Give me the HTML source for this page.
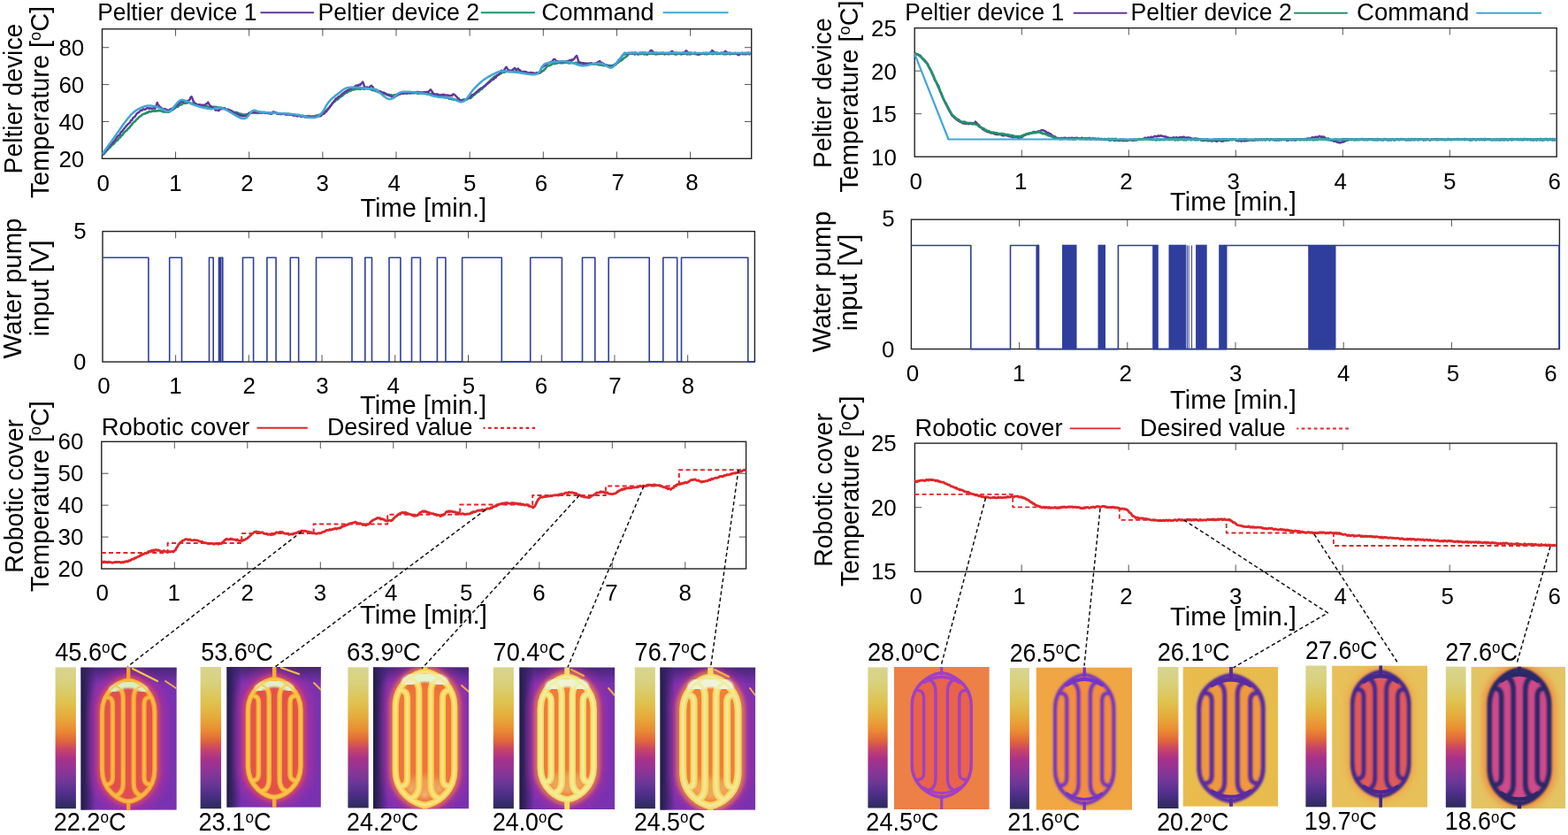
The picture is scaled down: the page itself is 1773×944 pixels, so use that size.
<!DOCTYPE html><html><head><meta charset="utf-8"><style>html,body{margin:0;padding:0;background:#fff;overflow:hidden}svg{display:block}text{font-family:"Liberation Sans",Arial,sans-serif;fill:#000}</style></head><body><svg width="1773" height="944" viewBox="0 0 1773 944"><defs><linearGradient id="cb" x1="0" y1="0" x2="0" y2="1"><stop offset="0" stop-color="#d8d590"/><stop offset="0.12" stop-color="#d9d07a"/><stop offset="0.25" stop-color="#dfc24e"/><stop offset="0.36" stop-color="#e6a93a"/><stop offset="0.45" stop-color="#ea8a33"/><stop offset="0.52" stop-color="#e0663c"/><stop offset="0.58" stop-color="#c84468"/><stop offset="0.65" stop-color="#a8318a"/><stop offset="0.73" stop-color="#8e3596"/><stop offset="0.82" stop-color="#6c3796"/><stop offset="0.9" stop-color="#4d2f88"/><stop offset="1" stop-color="#2c2b5a"/></linearGradient><filter id="b0_6" x="-30%" y="-30%" width="160%" height="160%"><feGaussianBlur stdDeviation="0.6"/></filter><filter id="b0_9" x="-30%" y="-30%" width="160%" height="160%"><feGaussianBlur stdDeviation="0.9"/></filter><filter id="b1_2" x="-30%" y="-30%" width="160%" height="160%"><feGaussianBlur stdDeviation="1.2"/></filter><filter id="b1_6" x="-30%" y="-30%" width="160%" height="160%"><feGaussianBlur stdDeviation="1.6"/></filter><filter id="b2_0" x="-30%" y="-30%" width="160%" height="160%"><feGaussianBlur stdDeviation="2"/></filter><filter id="b3_0" x="-30%" y="-30%" width="160%" height="160%"><feGaussianBlur stdDeviation="3"/></filter><filter id="b4_5" x="-30%" y="-30%" width="160%" height="160%"><feGaussianBlur stdDeviation="4.5"/></filter><filter id="b6_0" x="-30%" y="-30%" width="160%" height="160%"><feGaussianBlur stdDeviation="6"/></filter><clipPath id="c1"><rect x="91.3" y="754.4" width="108.5" height="161.4"/></clipPath><linearGradient id="c1g" x1="0" y1="0" x2="1" y2="0"><stop offset="0" stop-color="#1e1c46" stop-opacity="1"/><stop offset="0.05" stop-color="#1e1c46" stop-opacity="0.75"/><stop offset="0.16" stop-color="#1e1c46" stop-opacity="0"/></linearGradient><linearGradient id="c1t" x1="0" y1="0" x2="0" y2="1"><stop offset="0" stop-color="#302060" stop-opacity="0.7"/><stop offset="0.12" stop-color="#302060" stop-opacity="0"/></linearGradient><clipPath id="c2"><rect x="256.3" y="754" width="106.6" height="158.8"/></clipPath><linearGradient id="c2g" x1="0" y1="0" x2="1" y2="0"><stop offset="0" stop-color="#1e1c46" stop-opacity="1"/><stop offset="0.05" stop-color="#1e1c46" stop-opacity="0.75"/><stop offset="0.16" stop-color="#1e1c46" stop-opacity="0"/></linearGradient><linearGradient id="c2t" x1="0" y1="0" x2="0" y2="1"><stop offset="0" stop-color="#302060" stop-opacity="0.7"/><stop offset="0.12" stop-color="#302060" stop-opacity="0"/></linearGradient><clipPath id="c3"><rect x="422" y="754.3" width="108" height="160.1"/></clipPath><linearGradient id="c3g" x1="0" y1="0" x2="1" y2="0"><stop offset="0" stop-color="#1e1c46" stop-opacity="1"/><stop offset="0.05" stop-color="#1e1c46" stop-opacity="0.75"/><stop offset="0.16" stop-color="#1e1c46" stop-opacity="0"/></linearGradient><linearGradient id="c3t" x1="0" y1="0" x2="0" y2="1"><stop offset="0" stop-color="#302060" stop-opacity="0.7"/><stop offset="0.12" stop-color="#302060" stop-opacity="0"/></linearGradient><clipPath id="c4"><rect x="587.3" y="754.4" width="108" height="160.7"/></clipPath><linearGradient id="c4g" x1="0" y1="0" x2="1" y2="0"><stop offset="0" stop-color="#1e1c46" stop-opacity="1"/><stop offset="0.05" stop-color="#1e1c46" stop-opacity="0.75"/><stop offset="0.16" stop-color="#1e1c46" stop-opacity="0"/></linearGradient><linearGradient id="c4t" x1="0" y1="0" x2="0" y2="1"><stop offset="0" stop-color="#302060" stop-opacity="0.7"/><stop offset="0.12" stop-color="#302060" stop-opacity="0"/></linearGradient><clipPath id="c5"><rect x="746.3" y="754.4" width="108" height="161.4"/></clipPath><linearGradient id="c5g" x1="0" y1="0" x2="1" y2="0"><stop offset="0" stop-color="#1e1c46" stop-opacity="1"/><stop offset="0.05" stop-color="#1e1c46" stop-opacity="0.75"/><stop offset="0.16" stop-color="#1e1c46" stop-opacity="0"/></linearGradient><linearGradient id="c5t" x1="0" y1="0" x2="0" y2="1"><stop offset="0" stop-color="#302060" stop-opacity="0.7"/><stop offset="0.12" stop-color="#302060" stop-opacity="0"/></linearGradient><clipPath id="c6"><rect x="1010.8" y="754" width="108" height="161.1"/></clipPath><clipPath id="c7"><rect x="1171.5" y="754.4" width="108.5" height="161.4"/></clipPath><clipPath id="c8"><rect x="1337.5" y="754" width="107.8" height="157.8"/></clipPath><clipPath id="c9"><rect x="1506.1" y="752.5" width="108" height="160.3"/></clipPath><clipPath id="c10"><rect x="1663.3" y="753.7" width="106.9" height="160.5"/></clipPath></defs><rect width="1773" height="944" fill="#fff"/><path d="M198.55 179.3V171.5M198.55 32.8V40.6M281.7 179.3V171.5M281.7 32.8V40.6M364.85 179.3V171.5M364.85 32.8V40.6M448 179.3V171.5M448 32.8V40.6M531.15 179.3V171.5M531.15 32.8V40.6M614.3 179.3V171.5M614.3 32.8V40.6M697.45 179.3V171.5M697.45 32.8V40.6M780.6 179.3V171.5M780.6 32.8V40.6M115.5 137.44H123.3M849.7 137.44H841.9M115.5 95.58H123.3M849.7 95.58H841.9M115.5 53.72H123.3M849.7 53.72H841.9" stroke="#555" stroke-width="1" fill="none"/>
<rect x="115.5" y="32.8" width="734.2" height="146.5" fill="none" stroke="#222" stroke-width="1.4"/>
<path d="M115.9 175.29 L116.47 174.49 L117.18 174.37 L117.99 172.83 L118.91 172.45 L119.91 171.22 L120.97 169.75 L122.09 169.15 L123.24 167.4 L124.41 166.67 L125.58 165.03 L126.74 163.86 L127.88 163.09 L128.97 162.45 L130 160.55 L131.06 159.57 L132.11 158.98 L133.14 158.3 L134.16 156.79 L135.18 155.52 L136.21 155.16 L137.23 152.98 L138.27 152.88 L139.33 151.11 L140.4 149.84 L141.5 148.68 L142.63 147.75 L143.8 147.18 L144.72 145.47 L145.65 144.95 L146.61 143.98 L147.58 142.58 L148.57 141.69 L149.57 139.99 L150.58 138.86 L151.59 137.91 L152.62 137.37 L153.65 135.98 L154.68 134.78 L155.71 134.09 L156.74 132.96 L157.76 131.86 L158.79 131.61 L159.8 130.72 L160.8 129.49 L161.87 129.25 L162.94 128.62 L164.02 128.53 L165.11 127.9 L166.2 126.98 L167.29 127.46 L168.38 126.13 L169.47 126.23 L170.55 126.41 L171.62 125.49 L172.67 125.72 L173.72 125.03 L174.74 125.65 L175.75 125.65 L176.74 125.3 L177.7 125.55 L178.84 124.8 L179.91 125.28 L180.94 125.28 L181.94 125.44 L182.91 125.51 L183.87 126.21 L184.82 126.57 L185.79 126.21 L186.78 126.6 L187.81 125.96 L188.88 126.73 L190 126.54 L191.2 126.69 L192.11 126.19 L193.04 125.15 L194 124.8 L194.99 124.6 L196 123.22 L197.02 123.1 L198.06 122.06 L199.12 121.3 L200.18 120.52 L201.25 120.66 L202.33 119.21 L203.41 118.69 L204.49 118.24 L205.57 118.24 L206.64 116.79 L207.71 116.81 L208.76 116.59 L209.8 116.76 L210.83 116.55 L211.84 116.54 L212.84 115.84 L213.84 116.07 L214.82 116.13 L215.81 116.93 L216.8 117.23 L217.79 116.51 L218.78 116.81 L219.78 117.17 L220.8 117.48 L221.82 118.09 L222.86 118.52 L223.92 118.43 L225 118.41 L226.11 119.17 L227.24 119.34 L228.4 119.78 L229.33 120.38 L230.28 120.19 L231.24 120.1 L232.22 120.34 L233.21 120.51 L234.22 119.87 L235.24 120.99 L236.27 120.95 L237.3 121.16 L238.35 121.17 L239.4 120.79 L240.46 120.9 L241.52 120.66 L242.59 121.41 L243.66 120.84 L244.72 120.98 L245.79 121.29 L246.85 121.38 L247.91 121.75 L248.97 121.57 L250.02 121.69 L251.06 122.07 L252.1 122.22 L253.14 122.77 L254.21 122.63 L255.29 123.94 L256.39 123.95 L257.5 123.73 L258.62 124.2 L259.75 124.69 L260.88 125.08 L262 125.18 L263.13 126.43 L264.24 126.99 L265.34 126.74 L266.43 127.14 L267.5 127.03 L268.56 127.4 L269.58 128.03 L270.58 128.25 L271.55 129.21 L272.48 128.68 L273.37 128.74 L274.23 130.06 L275.04 129.71 L275.8 129.38 L277.26 129.97 L278.32 129.29 L279.1 129.67 L279.71 129.89 L280.26 129.35 L280.85 128.73 L281.62 127.79 L282.65 127.56 L284.08 127.04 L286 127.63 L286.67 127.32 L287.37 127.61 L288.11 127.06 L288.88 126.93 L289.68 127.64 L290.52 127.86 L291.38 127.71 L292.26 127.67 L293.18 127.71 L294.11 127.64 L295.07 127.05 L296.05 127.43 L297.05 127.27 L298.07 126.92 L299.1 126.95 L300.15 127.3 L301.22 127.32 L302.29 127.88 L303.38 128.25 L304.48 127.69 L305.58 128.33 L306.69 128.44 L307.81 128.45 L308.93 127.8 L310.05 127.68 L311.17 127.74 L312.29 127.76 L313.41 127.83 L314.53 128.38 L315.64 128.77 L316.74 128.75 L317.84 128.37 L318.92 128.63 L320 128.86 L320.97 128.05 L321.95 128.81 L322.95 129.19 L323.96 129.13 L324.98 129.19 L326.02 128.97 L327.07 128.74 L328.13 129.59 L329.2 129.18 L330.27 129.88 L331.36 130.23 L332.44 129.68 L333.53 129.83 L334.63 130.63 L335.72 130.51 L336.82 129.99 L337.92 130.07 L339.01 130.24 L340.1 131.27 L341.19 131.28 L342.27 130.6 L343.34 131.53 L344.41 131.81 L345.47 131.5 L346.52 131.21 L347.55 131.51 L348.58 131.05 L349.59 130.94 L350.59 132.1 L351.57 131.71 L352.53 131.54 L353.48 131.98 L354.4 131.32 L355.31 131.75 L356.19 131.58 L357.05 130.71 L357.89 130.59 L358.7 130.45 L360.05 129.99 L361.35 129.91 L362.59 128.95 L363.79 128.49 L364.93 127.43 L366.04 127.6 L367.11 126.11 L368.14 125.36 L369.14 124.61 L370.12 124.06 L371.06 122.53 L371.99 122.16 L372.89 120.69 L373.78 119.75 L374.65 118.78 L375.52 117.23 L376.38 116.81 L377.24 115.61 L378.09 114.55 L378.95 114.7 L379.82 113.19 L380.7 112.87 L381.89 112.28 L383.04 111.2 L384.15 110.07 L385.23 109.46 L386.28 108.7 L387.31 108.19 L388.32 106.62 L389.32 106.43 L390.31 105.37 L391.31 104.74 L392.31 104.71 L393.33 103.81 L394.36 103.33 L395.41 103.07 L396.49 102.8 L397.6 101.83 L398.55 101.73 L399.5 101.33 L400.45 101.09 L401.4 101.09 L402.35 100.62 L403.31 100.55 L404.27 100.36 L405.24 100.81 L406.22 100.44 L407.22 100.6 L408.22 100.65 L409.24 99.82 L410.27 100.2 L411.32 100.7 L412.39 100.64 L413.49 99.89 L414.6 99.97 L415.74 100.48 L416.9 100.19 L417.81 100.53 L418.76 100.5 L419.74 101.43 L420.75 101.81 L421.78 102.22 L422.83 101.62 L423.91 102.62 L424.99 102.88 L426.09 102.61 L427.19 103.86 L428.3 104.33 L429.41 103.81 L430.51 105.06 L431.61 104.77 L432.7 105.24 L433.78 106.2 L434.84 106.35 L435.88 105.87 L436.9 106.5 L437.88 106.88 L438.84 106.92 L439.77 106.98 L440.65 107.31 L441.5 107.95 L442.3 107.22 L443.69 107.98 L444.88 107.84 L445.91 107.23 L446.83 107.43 L447.66 107.54 L448.45 107.11 L449.23 106.26 L450.04 107.04 L450.91 106.49 L451.88 106.41 L453 105.12 L454.29 105.13 L455.8 104.75 L456.57 105.6 L457.36 104.97 L458.18 104.77 L459.02 105.09 L459.89 105.66 L460.78 105.52 L461.69 104.83 L462.62 104.68 L463.57 105.6 L464.54 105.17 L465.53 105.32 L466.54 104.59 L467.57 104.56 L468.61 105.33 L469.67 105.03 L470.75 104.63 L471.84 105.7 L472.94 105.38 L474.06 105.62 L475.19 104.82 L476.33 105.81 L477.48 104.93 L478.65 105.97 L479.82 105.57 L481 105.54 L482.2 105.9 L483.39 106.48 L484.6 105.82 L485.5 105.77 L486.43 106.38 L487.39 106.19 L488.36 106.21 L489.36 106.46 L490.37 106.53 L491.4 106.93 L492.45 107.29 L493.51 107.52 L494.59 108.32 L495.68 108.01 L496.77 108.53 L497.88 108.42 L498.99 108.89 L500.1 108.77 L501.22 109.33 L502.34 109.33 L503.46 110.46 L504.58 110.52 L505.7 110.35 L506.81 110.96 L507.92 111.76 L509.01 111.02 L510.1 112.11 L511.18 111.87 L512.25 112.16 L513.3 112.76 L514.33 112.41 L515.35 112.72 L516.35 113.08 L517.33 113.56 L518.29 112.9 L519.23 113.57 L520.14 113.48 L521.02 113.43 L521.88 113.16 L522.7 113.07 L523.5 112.67 L524.93 112.59 L526.26 112.29 L527.5 112.79 L528.67 111.83 L529.76 111.29 L530.8 110.72 L531.78 111.09 L532.71 110.54 L533.62 109.68 L534.49 108.55 L535.35 107.81 L536.21 107.15 L537.06 106.6 L537.92 105.47 L538.8 105.03 L539.71 104.02 L540.66 104.05 L541.65 103.26 L542.69 101.95 L543.8 100.79 L544.71 101 L545.62 99.5 L546.53 98.8 L547.43 97.58 L548.34 97.2 L549.25 96.45 L550.16 95.6 L551.08 94.33 L552.01 93.77 L552.94 92.25 L553.89 91.63 L554.85 90.49 L555.83 89.94 L556.82 88.6 L557.82 87.69 L558.85 87.17 L559.9 86.25 L560.96 85.87 L562.06 85.04 L563.17 84.59 L564.32 83.82 L565.49 83.28 L566.7 82.94 L567.93 81.87 L569.2 81.39 L570.06 81.96 L570.96 80.77 L571.9 81.3 L572.86 81.07 L573.85 80.26 L574.87 81.13 L575.91 81.16 L576.98 80.82 L578.06 80.94 L579.16 81.06 L580.28 80.29 L581.41 80.81 L582.55 80.86 L583.7 81.34 L584.85 81.4 L586.01 81.53 L587.17 81.36 L588.33 81.85 L589.49 81.73 L590.65 81.88 L591.8 81.46 L592.93 81.35 L594.06 81.61 L595.17 82.02 L596.27 81.84 L597.35 82.83 L598.41 82.62 L599.45 82.8 L600.46 82.89 L601.45 83.04 L602.4 82.87 L603.33 82.34 L604.22 83.33 L605.08 83.28 L605.89 82.97 L606.67 82.98 L607.41 83.07 L608.1 82.28 L610.18 82.66 L611.84 81.48 L613.16 80.53 L614.2 79.93 L615.05 79.58 L615.77 78.01 L616.44 77.71 L617.12 77.08 L617.9 75.66 L618.83 74.78 L620 74.27 L620.9 74.16 L621.8 73.92 L622.71 73.42 L623.63 73.16 L624.57 72.2 L625.52 72.03 L626.5 71.92 L627.5 72.29 L628.53 71.57 L629.6 71.7 L630.7 70.87 L631.84 70.79 L633.03 70.91 L634.27 71.28 L635.55 71.21 L636.9 71.11 L637.73 70.61 L638.59 70.86 L639.48 70.78 L640.4 70.77 L641.33 70.36 L642.3 71.3 L643.28 70.48 L644.28 71.44 L645.29 71.42 L646.32 70.36 L647.36 70.93 L648.41 71.41 L649.47 71.65 L650.54 71.08 L651.61 70.92 L652.68 70.92 L653.75 71.87 L654.82 71.05 L655.88 71.57 L656.94 71.11 L657.99 71.64 L659.03 72.22 L660.06 71.31 L661.07 72.2 L662.07 71.89 L663.04 72.41 L664 72.24 L665.07 71.75 L666.16 72.62 L667.26 72.21 L668.37 71.74 L669.49 71.81 L670.61 72.49 L671.73 72.54 L672.85 72.46 L673.96 72.37 L675.07 72.72 L676.16 72.79 L677.24 73.52 L678.3 72.62 L679.34 73.61 L680.36 73.82 L681.35 73.04 L682.32 74.1 L683.25 73.92 L684.14 74.23 L685 73.56 L685.82 73.72 L686.59 73.8 L687.32 74.57 L688 74.11 L689.85 73.96 L691.09 74.21 L691.91 74.16 L692.53 73.92 L693.16 73.85 L694.01 74.37 L695.3 73.04 L696.14 73.33 L697.08 71.88 L698.09 71.17 L699.18 70.64 L700.31 69.36 L701.47 68.64 L702.65 68.38 L703.83 67.33 L704.99 66.3 L706.12 65.19 L707.21 64.69 L708.22 63.98 L709.16 62.87 L710 62.56 L710.34 61.07 L709 61.5 L707.12 60.99 L705.86 61.34 L706.36 61.26 L709.79 60.88 L717.3 60.56 L717.84 61.61 L718.4 60.64 L718.99 61.05 L719.6 60.89 L720.22 60.83 L720.87 61.35 L721.54 61.63 L722.22 60.77 L722.93 61.24 L723.66 60.81 L724.4 61.11 L725.16 60.91 L725.95 60.63 L726.74 60.62 L727.56 60.67 L728.39 61.51 L729.24 61.01 L730.11 60.67 L730.99 61.49 L731.89 61.6 L732.8 60.94 L733.73 60.56 L734.67 60.62 L735.63 60.49 L736.6 60.79 L737.59 60.49 L738.59 60.66 L739.6 60.68 L740.62 61.05 L741.66 61.43 L742.7 61.26 L743.76 60.85 L744.83 60.85 L745.92 60.98 L747.01 60.8 L748.11 60.75 L749.22 60.42 L750.34 60.67 L751.47 61.5 L752.61 60.48 L753.76 60.93 L754.92 61.08 L756.08 61.36 L757.25 60.58 L758.43 60.64 L759.62 60.61 L760.81 60.79 L762.01 60.85 L763.21 61.45 L764.42 61.32 L765.64 61.35 L766.86 60.33 L768.08 60.34 L769.31 61.15 L770.54 61.37 L771.77 60.86 L773.01 61 L774.25 60.29 L775.49 60.76 L776.74 61.4 L777.99 61.27 L779.23 61.31 L780.48 61.45 L781.73 60.58 L782.98 60.41 L784.23 60.46 L785.48 60.9 L786.73 61.09 L787.98 61.4 L789.22 61.13 L790.47 61.04 L791.71 61.18 L792.95 60.81 L794.19 60.92 L795.42 60.31 L796.65 61.2 L797.88 60.54 L799.1 61.36 L800.32 61.03 L801.53 60.62 L802.74 60.41 L803.94 60.55 L805.14 61.01 L806.33 61.09 L807.51 60.38 L808.69 60.33 L809.86 60.87 L811.02 60.94 L812.18 60.71 L813.32 60.51 L814.46 60.96 L815.59 60.25 L816.71 60.6 L817.82 60.79 L818.92 61.39 L820.01 61.01 L821.09 61.29 L822.15 60.8 L823.21 60.51 L824.26 60.53 L825.29 61.38 L826.31 61.07 L827.32 60.6 L828.31 60.25 L829.29 60.82 L830.26 61.03 L831.22 60.73 L832.15 60.53 L833.08 61.02 L833.99 61.33 L834.88 60.49 L835.76 60.26 L836.62 60.62 L837.47 60.72 L838.3 61.04 L839.11 60.45 L839.9 61.17 L840.68 61.1 L841.44 60.82 L842.18 60.46 L842.9 61.37 L843.6 60.58 L844.28 61.19 L844.95 60.48 L845.59 60.47 L846.21 61.12 L846.81 60.56 L847.39 61.35 L847.95 60.8 L848.49 60.43 L849 60.47" stroke="#23906c" stroke-width="2.6" fill="none" stroke-linejoin="round"/>
<path d="M115.9 174.59 L116.46 174.25 L117.12 173.84 L117.85 171.93 L118.67 171.28 L119.55 170 L120.5 169.86 L121.5 167.59 L122.56 166.21 L123.66 164.92 L124.8 164 L125.97 163.26 L127.17 161.82 L128.39 160.19 L129.62 159.07 L130.85 157.52 L132.08 155.28 L133.31 153.64 L134.53 153.18 L135.72 151.52 L136.89 149.21 L138.03 148.69 L139.12 147.03 L140.17 145.78 L141.17 144.55 L142.12 143.24 L142.99 141.99 L143.8 141.41 L145.32 139.72 L146.71 138.85 L147.99 136.23 L149.15 135.91 L150.23 133.62 L151.23 132.6 L152.18 132.09 L153.08 131.05 L153.94 129.58 L154.79 128.19 L155.64 127.9 L156.51 126.98 L157.4 126.95 L158.56 125.15 L159.67 124.69 L160.74 124.85 L161.77 123.32 L162.77 123.51 L163.74 123.8 L164.7 123.56 L165.64 122.45 L166.57 122.28 L167.5 122.13 L168.69 123.05 L169.9 122.09 L171.1 122.71 L172.28 122.92 L173.38 122.21 L174.39 122.12 L175.27 122.75 L176 121.31 L177.7 115.99 L178.44 117.66 L179.29 118.7 L180.29 120.55 L181.46 120.96 L182.8 122.53 L183.63 123.04 L184.52 123.03 L185.46 123.81 L186.46 122.98 L187.5 123.56 L188.59 124.1 L189.72 124.82 L190.89 124.76 L192.1 123.75 L193.05 123.2 L194.07 122.9 L195.14 122.31 L196.24 122.1 L197.37 120.29 L198.51 120.22 L199.64 119.24 L200.76 118.48 L201.85 117.6 L202.89 116.65 L203.88 115.66 L204.8 115.17 L206.09 114.74 L207.32 115.01 L208.48 113.97 L209.58 114.09 L210.61 114.83 L211.55 114.19 L212.42 113.9 L213.2 113.69 L214.64 112.51 L215.53 109.9 L216.6 109.22 L217.38 110.78 L218.11 113.16 L218.97 114.84 L220.12 116.39 L221.7 117.48 L222.47 118.23 L223.35 118.65 L224.31 118.39 L225.34 118.14 L226.43 118.37 L227.56 118.6 L228.71 118.63 L229.87 118.69 L231.01 118.81 L232.14 118.59 L233.22 117.24 L234.25 117.13 L235.2 115.53 L236.36 117.65 L237.48 119.26 L238.56 120.78 L239.6 120.82 L240.62 121.65 L241.61 122.4 L242.58 122.98 L243.53 124.53 L244.47 124.61 L245.4 124.57 L246.44 124.72 L247.31 125.23 L248.08 124.14 L248.86 123.23 L249.73 123.45 L250.79 122.85 L252.11 123.13 L253.8 122.18 L254.53 122.85 L255.33 123.55 L256.2 123.89 L257.13 124.35 L258.11 123.62 L259.14 124.4 L260.2 124.65 L261.3 125.24 L262.41 126.78 L263.55 126.8 L264.69 127.79 L265.83 127.6 L266.97 128.77 L268.1 128.73 L269.2 128.97 L270.28 130.1 L271.33 130.74 L272.33 130.03 L273.29 131 L274.19 131.3 L275.03 130.99 L275.8 131.33 L277.19 131.11 L278.21 131.02 L278.98 130.7 L279.59 130.61 L280.15 130.05 L280.77 128.81 L281.56 127.92 L282.63 127.76 L284.07 127.78 L286 126.89 L286.67 127.02 L287.37 126.85 L288.1 127.6 L288.87 127.27 L289.67 126.64 L290.49 126.69 L291.35 127.08 L292.23 127.3 L293.13 127.44 L294.06 126.76 L295.01 126.88 L295.98 127.61 L296.98 127.29 L297.99 127.17 L299.01 127.25 L300.06 128.15 L301.11 127.37 L302.18 127.77 L303.26 127.56 L304.36 127.7 L305.46 128.36 L306.57 128.6 L307.68 127.4 L308.8 126.39 L309.93 126.64 L311.06 126.9 L312.18 127.59 L313.31 128.91 L314.44 128.36 L315.56 128.95 L316.68 128.48 L317.79 129.17 L318.9 128.69 L320 128.36 L320.94 128.23 L321.9 129 L322.88 129.21 L323.87 129.66 L324.88 128.7 L325.91 129.52 L326.94 129.32 L327.99 129.64 L329.05 129.32 L330.12 129.65 L331.2 130.11 L332.28 130.8 L333.37 129.9 L334.47 130.56 L335.56 131.13 L336.66 131.5 L337.76 130.66 L338.86 130.73 L339.96 131.94 L341.06 132.13 L342.15 131.63 L343.23 131.2 L344.31 132.46 L345.38 131.87 L346.44 132.64 L347.49 132.36 L348.53 132.7 L349.56 131.9 L350.57 132.76 L351.56 132.05 L352.54 132.3 L353.5 132.86 L354.45 132.81 L355.37 131.92 L356.27 131.89 L357.15 132.03 L358 132.06 L358.83 131.73 L359.63 131.22 L360.4 131.17 L361.87 131.29 L363.26 130.88 L364.57 129.02 L365.8 128.85 L366.97 128.17 L368.07 126.22 L369.13 126.18 L370.13 124.12 L371.09 123.57 L372.02 122.3 L372.92 121.18 L373.79 119.54 L374.65 118.47 L375.49 117.48 L376.34 116.1 L377.18 115.27 L378.03 113.92 L378.9 112.9 L379.79 111.42 L380.7 111.35 L381.86 110.21 L383.02 108.95 L384.16 108.74 L385.3 107.9 L386.43 106.66 L387.55 105.51 L388.65 105.13 L389.73 103.93 L390.8 103.27 L391.84 103 L392.87 101.93 L393.87 101.78 L394.84 101.29 L395.79 100.13 L396.71 100.38 L397.6 99.16 L398.85 99.32 L400.06 98.76 L401.23 97.85 L402.35 96.75 L403.43 96.9 L404.45 96.35 L405.41 96.78 L406.31 95.46 L407.14 96.19 L407.91 95.76 L408.6 94.26 L410.13 92.56 L410.81 93.9 L412 97.9 L412.69 98.51 L413.38 99.35 L414.11 99.31 L414.93 98.33 L415.88 99.18 L417.01 99.5 L418.37 97.89 L420 96.85 L420.76 97.83 L421.62 98.35 L422.56 100.75 L423.57 100.71 L424.64 101.83 L425.76 101.4 L426.92 102.33 L428.11 103.36 L429.31 102.92 L430.52 103.49 L431.73 104.31 L432.92 104.56 L434.09 104.68 L435.21 105.34 L436.29 105.76 L437.32 107.2 L438.27 107.26 L439.14 107.91 L439.92 107.29 L440.6 108.37 L442.71 108.59 L443.46 109.84 L443.89 110.28 L445 109.82 L445.67 110.28 L446.29 109.53 L446.9 109.12 L447.54 109 L448.27 107.42 L449.15 108 L450.21 106.97 L451.5 106.14 L453.08 106.22 L455 105.19 L455.69 106.05 L456.45 105.44 L457.27 105.08 L458.15 105.53 L459.08 105.04 L460.05 104.63 L461.07 105.31 L462.13 104.35 L463.23 105.29 L464.35 104.51 L465.5 104.96 L466.66 105.37 L467.85 104.81 L469.04 104.87 L470.24 104.38 L471.44 103.95 L472.63 103.96 L473.82 104.09 L475 104.67 L476.16 104.41 L477.29 104.5 L478.4 104.99 L479.48 103.99 L480.52 104.1 L481.52 104.65 L482.48 103.83 L483.39 103.81 L484.24 104.27 L485.03 103.24 L485.76 102.6 L486.41 101.55 L487 101.24 L489.41 104.67 L488.59 103.85 L490 106.66 L490.61 106.55 L491.32 106.19 L492.11 107.3 L492.97 106.47 L493.9 106.42 L494.89 106.41 L495.93 107.18 L497.01 107.55 L498.13 107.5 L499.28 107.07 L500.44 106.95 L501.62 106.69 L502.8 107.59 L503.97 107.56 L505.14 107.37 L506.28 107.84 L507.39 107.67 L508.46 108.41 L509.49 108.26 L510.47 107.75 L511.38 108.17 L512.23 106.38 L513 106.43 L514.53 107.43 L515.8 109.08 L516.88 109.78 L517.81 111.52 L518.66 111.32 L519.47 112.75 L520.3 113.86 L521.22 113.25 L522.26 113.52 L523.5 113.94 L524.34 113.6 L525.19 113.48 L526.04 113.34 L526.91 112.08 L527.79 111.75 L528.69 111.17 L529.62 110.22 L530.58 110.62 L531.58 109.75 L532.62 108.87 L533.7 107.12 L534.84 107.33 L536.03 106.28 L537.29 104.96 L538.61 104.33 L540 102.94 L540.82 102.05 L541.69 101.25 L542.61 100.73 L543.58 99.75 L544.6 99.37 L545.65 99.11 L546.73 98.21 L547.84 97.56 L548.97 96.52 L550.12 95.05 L551.28 94.53 L552.45 93.47 L553.63 93.01 L554.81 91.76 L555.98 90.52 L557.14 90.11 L558.29 89.64 L559.41 87.8 L560.52 87.81 L561.59 85.86 L562.63 85.38 L563.64 84.58 L564.6 83.94 L565.51 82.46 L566.37 80.56 L567.17 79.58 L567.92 80.62 L568.59 80.19 L569.2 80.35 L572.38 75.81 L572.73 75.83 L573 76.87 L573.95 78.08 L574.81 79.63 L576 79.46 L576.85 79.91 L577.85 79.72 L578.94 79.93 L580.04 78.55 L581.08 77.77 L582 76.81 L582.72 77.44 L583 77.83 L583.78 79.24 L586 77.55 L586.64 79.13 L587.38 78.95 L588.21 79.71 L589.12 80.41 L590.1 81.63 L591.13 81.02 L592.22 80.92 L593.35 80.93 L594.51 81.11 L595.68 82.12 L596.88 82.2 L598.07 82.43 L599.25 82.61 L600.42 81.86 L601.56 82.65 L602.67 82.43 L603.73 83.08 L604.73 83.12 L605.67 83.21 L606.53 82.11 L607.31 83.08 L608 83.04 L609.86 82.35 L610.96 80.12 L611.62 78.84 L612.15 77.2 L612.84 75.64 L614 75.45 L614.79 74.86 L615.67 74.07 L616.6 73.77 L617.6 72.97 L618.63 72 L619.69 71.24 L620.77 70.76 L621.86 71.16 L622.94 70.04 L623.99 69.82 L625.02 68.77 L626 67.05 L627.12 66.9 L628.2 67.9 L629.25 69.49 L630.29 69.18 L631.32 69.25 L632.36 70.23 L633.43 69.76 L634.53 70.3 L635.69 70.02 L636.9 69.19 L637.84 69.57 L638.85 69.43 L639.93 69.66 L641.05 68.86 L642.2 69.06 L643.35 68.56 L644.51 67.86 L645.64 68.43 L646.73 67.17 L647.76 67.88 L648.72 66.84 L649.59 66.26 L650.36 64.66 L651 63.88 L652.19 63.04 L653 65.43 L653.64 67.78 L654.38 69.72 L655.22 71.07 L656.13 70.5 L657.11 71.11 L658.15 71.12 L659.25 71.93 L660.4 71.35 L661.57 72.38 L662.78 71.63 L664 71.63 L664.87 72.29 L665.8 72.02 L666.78 71.49 L667.79 72.12 L668.83 71.33 L669.9 72.17 L670.98 71.97 L672.06 72 L673.15 71.71 L674.22 71.28 L675.28 70.92 L676.3 69.88 L677.3 69.55 L678.25 69.05 L679.16 71.01 L680 70.79 L681.26 71.36 L682.46 71.81 L683.59 73.1 L684.66 73.09 L685.67 73.47 L686.63 74.65 L687.53 74.29 L688.4 74.99 L689.22 75.38 L690 75.83 L691.29 75.88 L692.25 75.57 L693.09 74.73 L694.03 73.92 L695.3 72.55 L696.21 72.55 L697.25 71.16 L698.38 69.93 L699.57 67.75 L700.77 66.64 L701.95 65.65 L703.08 64.09 L704.1 62.37 L705 61.95 L705.8 61.54 L705.85 60.25 L705.99 60.04 L707.09 60.15 L710 60.56 L710.57 60.72 L711.13 59.8 L711.7 59.77 L712.27 59.87 L712.85 59.95 L713.43 60.18 L714.02 59.69 L714.63 59.89 L715.25 59.69 L715.89 60.69 L716.54 60.36 L717.22 59.53 L717.92 60.63 L718.65 59.5 L719.41 59.86 L720.2 60.62 L721.02 60.37 L721.88 60.28 L722.77 59.88 L723.7 59.56 L724.68 60.13 L725.7 59.43 L726.77 59.56 L727.89 59.79 L729.06 59.32 L730.28 59.79 L731.56 60.3 L732.9 60.17 L734.3 59.14 L735.76 57.06 L737.29 57.23 L738.89 59.27 L740.56 60.04 L742.29 59.78 L744.11 60.21 L746 60.43 L746.69 59.81 L747.39 60 L748.12 60.22 L748.87 59.8 L749.64 59.55 L750.43 60.19 L751.24 60.39 L752.07 60.26 L752.92 60.16 L753.79 60.36 L754.67 60.14 L755.57 60.09 L756.49 59.85 L757.42 59.65 L758.37 59.33 L759.34 57.9 L760.32 58.05 L761.31 59.29 L762.32 59.98 L763.34 60.09 L764.38 59.6 L765.42 59.82 L766.48 59.87 L767.55 60.09 L768.63 59.81 L769.73 60.16 L770.83 60.5 L771.94 59.53 L773.06 60.14 L774.2 59.39 L775.33 57.57 L776.48 57.49 L777.64 59.46 L778.8 59.36 L779.96 60.02 L781.14 59.52 L782.32 60.33 L783.5 60.54 L784.69 60 L785.88 59.46 L787.08 60.08 L788.28 60.72 L789.48 61.88 L790.69 61.48 L791.89 60.72 L793.1 60.43 L794.31 60.03 L795.52 59.89 L796.73 60.6 L797.94 59.64 L799.15 60.26 L800.35 59.89 L801.56 60.37 L802.76 59.48 L803.96 59.22 L805.15 57.02 L806.35 57.68 L807.53 59.34 L808.72 59.93 L809.89 59.43 L811.07 59.96 L812.23 59.97 L813.39 60.33 L814.54 59.88 L815.69 59.78 L816.83 59.73 L817.95 59.87 L819.07 59.06 L820.18 57.81 L821.28 58.47 L822.37 60.28 L823.45 59.97 L824.52 59.74 L825.58 59.64 L826.62 60.48 L827.65 60.53 L828.67 60.3 L829.67 60.09 L830.66 60.22 L831.64 59.78 L832.6 60.9 L833.55 60.84 L834.48 61.93 L835.39 62.27 L836.28 61.58 L837.16 60.45 L838.02 59.9 L838.87 60.23 L839.69 59.68 L840.5 60.61 L841.28 59.99 L842.05 60.63 L842.79 59.88 L843.51 60.02 L844.22 59.86 L844.9 60.09 L845.55 59.78 L846.19 59.54 L846.8 60.48 L847.39 59.91 L847.95 59.87 L848.49 59.94 L849 60.17" stroke="#61379a" stroke-width="2.4" fill="none" stroke-linejoin="round"/>
<path d="M115.9 173.8 L116.46 173.02 L117.15 172.08 L117.95 170.98 L118.84 169.75 L119.82 168.4 L120.88 166.94 L122 165.39 L123.18 163.77 L124.39 162.09 L125.64 160.36 L126.9 158.6 L127.81 157.33 L128.78 155.95 L129.8 154.49 L130.87 152.95 L131.97 151.36 L133.1 149.74 L134.25 148.09 L135.4 146.43 L136.55 144.79 L137.69 143.16 L138.82 141.59 L139.91 140.07 L140.96 138.62 L141.97 137.27 L142.92 136.02 L143.8 134.9 L145.08 133.32 L146.24 131.93 L147.3 130.71 L148.29 129.64 L149.22 128.69 L150.13 127.83 L151.03 127.03 L151.96 126.28 L152.95 125.55 L154 124.8 L155.02 124.13 L156.07 123.49 L157.15 122.89 L158.24 122.33 L159.35 121.81 L160.45 121.34 L161.56 120.91 L162.65 120.53 L163.73 120.2 L164.78 119.92 L165.8 119.7 L166.89 119.53 L167.97 119.44 L169.03 119.42 L170.08 119.47 L171.11 119.57 L172.12 119.71 L173.12 119.88 L174.09 120.08 L175.06 120.29 L176 120.5 L177.15 120.81 L178.27 121.21 L179.35 121.66 L180.41 122.14 L181.45 122.64 L182.48 123.11 L183.49 123.54 L184.5 123.9 L185.6 124.35 L186.64 124.9 L187.64 125.46 L188.65 125.91 L189.71 126.15 L190.84 126.08 L192.1 125.6 L192.98 124.99 L193.93 124.11 L194.93 123.01 L195.96 121.77 L197.02 120.44 L198.08 119.07 L199.15 117.73 L200.2 116.47 L201.21 115.36 L202.18 114.45 L203.1 113.8 L204.27 113.27 L205.38 113.03 L206.44 113.03 L207.46 113.2 L208.46 113.5 L209.45 113.87 L210.46 114.25 L211.5 114.6 L212.5 114.96 L213.42 115.41 L214.31 115.92 L215.22 116.48 L216.19 117.07 L217.28 117.66 L218.53 118.25 L220 118.8 L220.83 119.07 L221.72 119.36 L222.67 119.67 L223.67 119.98 L224.72 120.29 L225.8 120.61 L226.9 120.93 L228.03 121.24 L229.17 121.54 L230.32 121.83 L231.46 122.1 L232.6 122.35 L233.72 122.58 L234.81 122.79 L235.88 122.96 L236.9 123.1 L237.95 123.19 L238.95 123.19 L239.93 123.13 L240.87 123.02 L241.81 122.88 L242.73 122.71 L243.66 122.54 L244.59 122.38 L245.55 122.24 L246.53 122.13 L247.54 122.08 L248.59 122.1 L249.7 122.2 L250.87 122.39 L252.1 122.7 L252.99 122.99 L253.94 123.37 L254.93 123.82 L255.96 124.33 L257.02 124.9 L258.11 125.51 L259.23 126.16 L260.36 126.83 L261.51 127.53 L262.66 128.23 L263.81 128.94 L264.96 129.63 L266.1 130.31 L267.22 130.96 L268.33 131.57 L269.4 132.14 L270.45 132.66 L271.46 133.11 L272.42 133.49 L273.34 133.79 L274.2 133.99 L275 134.1 L276.45 134.01 L277.74 133.56 L278.88 132.83 L279.91 131.88 L280.86 130.79 L281.73 129.62 L282.57 128.44 L283.39 127.33 L284.22 126.36 L285.08 125.59 L286 125.1 L286.94 124.83 L287.7 124.75 L288.35 124.81 L288.96 124.99 L289.62 125.25 L290.39 125.57 L291.35 125.92 L292.57 126.26 L294.13 126.56 L296.1 126.8 L296.79 126.86 L297.53 126.92 L298.31 126.98 L299.13 127.04 L300 127.09 L300.9 127.15 L301.83 127.21 L302.8 127.27 L303.79 127.33 L304.81 127.39 L305.86 127.45 L306.93 127.51 L308.01 127.57 L309.12 127.64 L310.24 127.7 L311.37 127.76 L312.51 127.83 L313.66 127.89 L314.81 127.96 L315.96 128.02 L317.11 128.09 L318.26 128.16 L319.41 128.23 L320.54 128.3 L321.67 128.37 L322.78 128.45 L323.88 128.52 L324.96 128.6 L326.02 128.67 L327.05 128.75 L328.06 128.83 L329.05 128.92 L330 129 L331.15 129.12 L332.29 129.27 L333.44 129.44 L334.58 129.64 L335.72 129.85 L336.86 130.08 L338 130.32 L339.12 130.57 L340.24 130.83 L341.36 131.09 L342.46 131.34 L343.55 131.59 L344.63 131.83 L345.7 132.06 L346.76 132.28 L347.79 132.47 L348.82 132.65 L349.82 132.79 L350.81 132.91 L351.78 133 L352.72 133.05 L353.65 133.06 L354.55 133.02 L355.43 132.95 L356.28 132.82 L357.1 132.64 L357.9 132.4 L359.35 131.76 L360.69 130.9 L361.93 129.85 L363.07 128.63 L364.15 127.29 L365.15 125.85 L366.11 124.34 L367.02 122.8 L367.9 121.26 L368.77 119.74 L369.63 118.29 L370.5 116.92 L371.38 115.68 L372.3 114.6 L373.48 113.38 L374.63 112.23 L375.75 111.17 L376.85 110.17 L377.93 109.23 L378.99 108.35 L380.04 107.51 L381.07 106.71 L382.09 105.95 L383.1 105.22 L384.1 104.5 L385.13 103.73 L386.04 103 L386.89 102.3 L387.7 101.65 L388.53 101.04 L389.4 100.5 L390.38 100.01 L391.49 99.6 L392.79 99.26 L394.3 99 L395.08 98.92 L395.94 98.86 L396.86 98.82 L397.85 98.8 L398.88 98.81 L399.95 98.83 L401.06 98.87 L402.2 98.92 L403.36 98.99 L404.53 99.06 L405.71 99.15 L406.88 99.24 L408.05 99.34 L409.2 99.44 L410.32 99.55 L411.42 99.66 L412.47 99.76 L413.48 99.86 L414.44 99.96 L415.33 100.05 L416.15 100.13 L416.9 100.2 L418.59 100.33 L419.86 100.39 L420.83 100.43 L421.61 100.49 L422.34 100.62 L423.13 100.87 L424.11 101.28 L425.4 101.9 L426.22 102.37 L427.1 102.97 L428.04 103.69 L429.02 104.49 L430.03 105.34 L431.08 106.24 L432.15 107.15 L433.23 108.05 L434.32 108.92 L435.41 109.73 L436.49 110.46 L437.56 111.09 L438.61 111.59 L439.62 111.93 L440.6 112.1 L441.67 112.06 L442.69 111.78 L443.66 111.31 L444.6 110.68 L445.53 109.93 L446.46 109.1 L447.4 108.22 L448.37 107.34 L449.38 106.48 L450.44 105.69 L451.57 105.01 L452.79 104.46 L454.1 104.1 L454.93 103.96 L455.79 103.85 L456.69 103.77 L457.63 103.72 L458.59 103.69 L459.58 103.68 L460.59 103.7 L461.61 103.73 L462.66 103.79 L463.71 103.85 L464.78 103.94 L465.84 104.03 L466.92 104.14 L467.99 104.26 L469.05 104.38 L470.11 104.51 L471.15 104.64 L472.19 104.77 L473.2 104.91 L474.19 105.04 L475.16 105.17 L476.1 105.3 L477.23 105.46 L478.34 105.65 L479.45 105.86 L480.54 106.09 L481.63 106.33 L482.71 106.58 L483.77 106.84 L484.83 107.11 L485.88 107.39 L486.91 107.66 L487.93 107.93 L488.95 108.2 L489.95 108.45 L490.94 108.7 L491.92 108.93 L492.89 109.14 L493.85 109.33 L494.8 109.5 L495.92 109.67 L497.02 109.81 L498.09 109.92 L499.15 110.01 L500.19 110.08 L501.21 110.14 L502.22 110.19 L503.22 110.24 L504.21 110.29 L505.19 110.34 L506.16 110.41 L507.12 110.5 L508.09 110.6 L509.04 110.74 L510 110.9 L511.1 111.17 L512.19 111.55 L513.26 112.01 L514.33 112.52 L515.39 113.06 L516.44 113.59 L517.47 114.1 L518.5 114.54 L519.52 114.9 L520.53 115.14 L521.53 115.24 L522.52 115.17 L523.5 114.9 L524.64 114.3 L525.76 113.44 L526.86 112.34 L527.95 111.07 L529.02 109.67 L530.09 108.19 L531.15 106.66 L532.21 105.14 L533.26 103.68 L534.33 102.32 L535.4 101.1 L536.47 99.98 L537.53 98.88 L538.58 97.81 L539.63 96.75 L540.67 95.72 L541.73 94.71 L542.79 93.73 L543.86 92.78 L544.95 91.86 L546.06 90.96 L547.2 90.1 L548.2 89.39 L549.23 88.69 L550.3 88 L551.39 87.33 L552.5 86.68 L553.6 86.05 L554.71 85.44 L555.79 84.87 L556.86 84.32 L557.89 83.81 L558.88 83.33 L559.82 82.9 L560.7 82.5 L561.94 81.95 L562.98 81.5 L563.88 81.14 L564.74 80.87 L565.62 80.67 L566.6 80.53 L567.77 80.44 L569.2 80.4 L570.02 80.4 L570.89 80.43 L571.8 80.48 L572.75 80.56 L573.75 80.65 L574.77 80.76 L575.83 80.88 L576.91 81.01 L578.02 81.15 L579.14 81.3 L580.29 81.44 L581.44 81.59 L582.6 81.73 L583.77 81.86 L584.93 81.99 L586.1 82.1 L587.05 82.2 L588.05 82.32 L589.08 82.47 L590.13 82.64 L591.22 82.81 L592.32 82.99 L593.43 83.18 L594.55 83.37 L595.67 83.54 L596.79 83.71 L597.89 83.87 L598.98 84 L600.05 84.11 L601.08 84.19 L602.09 84.23 L603.05 84.24 L603.97 84.21 L604.84 84.12 L605.65 83.99 L606.4 83.8 L608.02 83.02 L609.34 81.85 L610.44 80.4 L611.36 78.81 L612.19 77.19 L612.98 75.65 L613.79 74.31 L614.7 73.3 L615.73 72.51 L616.64 71.97 L617.51 71.62 L618.41 71.38 L619.4 71.21 L620.58 71.03 L622 70.8 L622.83 70.65 L623.75 70.5 L624.74 70.35 L625.79 70.2 L626.89 70.06 L628.02 69.91 L629.17 69.78 L630.33 69.66 L631.48 69.55 L632.61 69.46 L633.71 69.39 L634.77 69.33 L635.77 69.3 L636.7 69.3 L637.9 69.34 L639 69.43 L640.04 69.55 L641.03 69.72 L641.98 69.91 L642.92 70.12 L643.86 70.35 L644.83 70.6 L645.84 70.85 L646.9 71.1 L647.9 71.36 L648.91 71.67 L649.93 72.03 L650.96 72.4 L652 72.78 L653.06 73.15 L654.14 73.5 L655.24 73.8 L656.36 74.05 L657.52 74.22 L658.7 74.3 L659.67 74.29 L660.69 74.21 L661.75 74.08 L662.84 73.91 L663.95 73.7 L665.07 73.46 L666.19 73.21 L667.3 72.95 L668.4 72.69 L669.47 72.45 L670.5 72.23 L671.49 72.04 L672.43 71.89 L673.3 71.8 L674.68 71.71 L675.92 71.67 L677.06 71.68 L678.11 71.74 L679.11 71.85 L680.09 72.01 L681.07 72.23 L682.1 72.5 L683.17 72.9 L684.24 73.46 L685.32 74.11 L686.38 74.8 L687.41 75.46 L688.4 76.02 L689.34 76.42 L690.2 76.6 L691.33 76.56 L692.21 76.25 L693.03 75.64 L694 74.67 L695.3 73.3 L696.14 72.37 L697.1 71.2 L698.15 69.85 L699.26 68.4 L700.4 66.89 L701.55 65.39 L702.67 63.97 L703.74 62.69 L704.72 61.61 L705.6 60.8 L706.59 59.9 L706.88 59.65 L707.25 59.78 L708.52 60.03 L711.5 60.1 L712.08 60.09 L712.66 60.07 L713.24 60.06 L713.81 60.04 L714.39 60.03 L714.98 60.02 L715.57 60 L716.18 59.99 L716.8 59.98 L717.44 59.97 L718.09 59.96 L718.77 59.94 L719.48 59.93 L720.21 59.92 L720.97 59.91 L721.76 59.9 L722.59 59.89 L723.46 59.88 L724.36 59.87 L725.32 59.87 L726.31 59.86 L727.36 59.85 L728.46 59.84 L729.61 59.84 L730.81 59.83 L732.08 59.82 L733.41 59.82 L734.81 59.82 L736.27 59.81 L737.8 59.81 L739.4 59.81 L741.08 59.8 L742.84 59.8 L744.68 59.8 L746.6 59.8 L747.29 59.8 L747.99 59.8 L748.72 59.8 L749.47 59.8 L750.24 59.8 L751.04 59.8 L751.85 59.8 L752.68 59.8 L753.53 59.81 L754.4 59.81 L755.29 59.81 L756.19 59.81 L757.11 59.81 L758.05 59.81 L759 59.81 L759.97 59.82 L760.96 59.82 L761.96 59.82 L762.97 59.82 L764 59.83 L765.04 59.83 L766.09 59.83 L767.15 59.83 L768.23 59.84 L769.32 59.84 L770.42 59.84 L771.53 59.84 L772.65 59.85 L773.78 59.85 L774.91 59.85 L776.06 59.86 L777.21 59.86 L778.37 59.86 L779.54 59.87 L780.72 59.87 L781.9 59.87 L783.08 59.88 L784.27 59.88 L785.47 59.88 L786.67 59.89 L787.87 59.89 L789.08 59.9 L790.29 59.9 L791.5 59.9 L792.71 59.91 L793.92 59.91 L795.14 59.92 L796.35 59.92 L797.57 59.92 L798.78 59.93 L799.99 59.93 L801.2 59.94 L802.41 59.94 L803.62 59.94 L804.82 59.95 L806.02 59.95 L807.22 59.96 L808.41 59.96 L809.59 59.96 L810.77 59.97 L811.95 59.97 L813.12 59.98 L814.28 59.98 L815.43 59.98 L816.58 59.99 L817.71 59.99 L818.84 60 L819.96 60 L821.07 60 L822.17 60.01 L823.25 60.01 L824.33 60.02 L825.4 60.02 L826.45 60.02 L827.49 60.03 L828.51 60.03 L829.53 60.03 L830.53 60.04 L831.51 60.04 L832.48 60.04 L833.43 60.05 L834.37 60.05 L835.29 60.05 L836.19 60.06 L837.08 60.06 L837.95 60.06 L838.8 60.07 L839.63 60.07 L840.44 60.07 L841.23 60.07 L842 60.08 L842.75 60.08 L843.48 60.08 L844.19 60.08 L844.87 60.09 L845.53 60.09 L846.17 60.09 L846.79 60.09 L847.38 60.1 L847.94 60.1 L848.49 60.1 L849 60.1" stroke="#42a6d6" stroke-width="2.5" fill="none" stroke-linejoin="round"/>
<text x="109.6" y="216.3" font-size="25.9">0</text>
<text x="191.14" y="216.3" font-size="25.9">1</text>
<text x="272.2" y="216.3" font-size="25.9">2</text>
<text x="357.47" y="216.3" font-size="25.9">3</text>
<text x="438.38" y="216.3" font-size="25.9">4</text>
<text x="524.02" y="216.3" font-size="25.9">5</text>
<text x="604.81" y="216.3" font-size="25.9">6</text>
<text x="691.39" y="215.3" font-size="25.9">7</text>
<text x="775.3" y="214.5" font-size="25.9">8</text>
<text x="95.21" y="188.9" font-size="25.9" text-anchor="end">20</text>
<text x="95.21" y="147.04" font-size="25.9" text-anchor="end">40</text>
<text x="95.21" y="105.18" font-size="25.9" text-anchor="end">60</text>
<text x="95.21" y="63.32" font-size="25.9" text-anchor="end">80</text>
<text x="407.45" y="245" font-size="29.8" textLength="142.62" lengthAdjust="spacingAndGlyphs">Time [min.]</text>
<text transform="translate(24.6,194.1) rotate(-90)" x="-2.32" y="0" font-size="30" textLength="169.67" lengthAdjust="spacingAndGlyphs">Peltier device</text>
<text transform="translate(54.7,223.7) rotate(-90)" x="-0.65" y="0" font-size="30" textLength="217.51" lengthAdjust="spacingAndGlyphs">Temperature [<tspan font-size="18.9" dy="-9">o</tspan><tspan dy="9">C]</tspan></text>
<text x="110.24" y="22.6" font-size="27" textLength="180.05" lengthAdjust="spacingAndGlyphs">Peltier device 1</text>
<path d="M294.5 14.3H355" stroke="#61379a" stroke-width="1.9"/>
<text x="359.51" y="22.6" font-size="27" textLength="182.74" lengthAdjust="spacingAndGlyphs">Peltier device 2</text>
<path d="M543.8 14.3H604.8" stroke="#23906c" stroke-width="1.9"/>
<text x="612.2" y="22.6" font-size="27" textLength="127.48" lengthAdjust="spacingAndGlyphs">Command</text>
<path d="M749.6 14.3H823.6" stroke="#42a6d6" stroke-width="1.9"/>
<path d="M1155.3 177.2V169.4M1155.3 31.7V39.5M1276.3 177.2V169.4M1276.3 31.7V39.5M1397.3 177.2V169.4M1397.3 31.7V39.5M1518.3 177.2V169.4M1518.3 31.7V39.5M1639.3 177.2V169.4M1639.3 31.7V39.5M1034.2 128.7H1042M1760.2 128.7H1752.4M1034.2 80.2H1042M1760.2 80.2H1752.4" stroke="#555" stroke-width="1" fill="none"/>
<rect x="1034.2" y="31.7" width="726" height="145.5" fill="none" stroke="#222" stroke-width="1.4"/>
<path d="M1034.4 60.41 L1035.13 60.86 L1036.18 61.13 L1037.39 61.12 L1038.6 62.46 L1039.54 62.98 L1040.49 62.67 L1041.49 64.52 L1042.56 65.66 L1043.7 66.77 L1044.72 67.11 L1045.78 69.28 L1046.89 70.42 L1048.04 71.2 L1049.25 73.03 L1050.5 76.39 L1051.53 77.97 L1052.66 79.79 L1053.85 82.17 L1055.05 84.9 L1056.21 87.63 L1057.29 90.74 L1058.24 92.24 L1059 93.55 L1060.47 96.41 L1061 96.38 L1062 99.57 L1062.77 102.48 L1063.74 104.53 L1064.88 107.5 L1066.14 110.26 L1067.5 113.51 L1068.42 115.32 L1069.43 117.51 L1070.51 118.89 L1071.62 121.79 L1072.74 123.78 L1073.84 126.13 L1074.91 127.61 L1075.9 129.8 L1077.11 131.09 L1078.22 132.09 L1079.29 133.16 L1080.37 133.97 L1081.49 135.26 L1082.7 135.53 L1083.67 136.67 L1084.67 136.81 L1085.71 137.76 L1086.76 138.22 L1087.84 138.67 L1088.94 139.44 L1090.06 138.62 L1091.2 139.94 L1092.27 139.61 L1093.42 139.83 L1094.62 140 L1095.84 140.23 L1097.04 139.59 L1098.19 139.59 L1099.25 140.23 L1100.2 139.01 L1101 139.68 L1102.34 139.1 L1102.92 137.63 L1104 138.64 L1104.81 139.39 L1105.74 140.67 L1106.76 141.06 L1107.86 143.18 L1109.03 143.84 L1110.25 144.99 L1111.5 146.52 L1112.38 145.97 L1113.26 147.4 L1114.15 147.78 L1115.06 147.88 L1116.01 149.01 L1117.01 148.79 L1118.06 149.33 L1119.19 149.78 L1120.4 150.48 L1121.7 150.12 L1122.58 150.64 L1123.51 150.84 L1124.5 151.22 L1125.53 151.78 L1126.6 151.28 L1127.69 152.16 L1128.81 151.79 L1129.94 152.1 L1131.07 151.97 L1132.21 152.44 L1133.34 153.22 L1134.45 152.96 L1135.54 153.3 L1136.6 152.86 L1137.62 153 L1138.6 153.14 L1139.77 153.72 L1140.93 154.01 L1142.07 154.45 L1143.2 153.73 L1144.3 154.86 L1145.39 155.31 L1146.45 155.09 L1147.49 154.64 L1148.5 155.14 L1149.48 154.88 L1150.42 155.2 L1151.33 156.18 L1152.2 155.74 L1153.48 155.6 L1154.61 155.4 L1155.62 155.06 L1156.56 154.1 L1157.49 153.49 L1158.46 152.9 L1159.51 152.43 L1160.7 151.83 L1161.67 151.64 L1162.71 150.75 L1163.82 151.06 L1164.96 150.52 L1166.12 150.67 L1167.29 149.56 L1168.44 149.43 L1169.55 149.02 L1170.61 149.76 L1171.6 149.73 L1172.5 149.2 L1173.88 148.43 L1175.01 148.57 L1176 148.12 L1176.97 147.53 L1178.03 147.02 L1179.3 147.24 L1180.19 147.67 L1181.15 147.93 L1182.16 148.59 L1183.22 149.44 L1184.29 150.46 L1185.38 149.97 L1186.46 151.3 L1187.51 151.24 L1188.53 151.91 L1189.5 153.3 L1190.53 153.54 L1191.35 154.51 L1192.07 154.4 L1192.8 154.31 L1193.65 155.22 L1194.73 155.86 L1196.14 156.62 L1198 156.93 L1198.7 156.33 L1199.46 156.3 L1200.26 155.93 L1201.1 156.66 L1201.98 156.12 L1202.9 156.05 L1203.85 155.87 L1204.84 155.86 L1205.85 156.73 L1206.89 155.98 L1207.94 157.06 L1209.02 155.9 L1210.12 156.89 L1211.23 155.9 L1212.34 155.73 L1213.47 156.62 L1214.59 155.97 L1215.72 156.59 L1216.85 155.86 L1217.97 155.67 L1219.09 156.61 L1220.19 156.53 L1221.28 156.72 L1222.35 156.57 L1223.4 155.76 L1224.4 156.5 L1225.4 156.64 L1226.4 156.36 L1227.39 157.02 L1228.39 156.19 L1229.39 157.17 L1230.39 156.9 L1231.38 156.05 L1232.39 156.11 L1233.39 157 L1234.39 157.29 L1235.4 156.4 L1236.41 156.77 L1237.43 157.38 L1238.44 156.72 L1239.47 157.69 L1240.49 157.27 L1241.53 156.78 L1242.56 157.25 L1243.6 157.58 L1244.65 157.47 L1245.71 157.83 L1246.77 157.2 L1247.84 158.1 L1248.92 157.58 L1250 157.99 L1250.95 158.01 L1251.9 157.77 L1252.85 157.77 L1253.81 158.34 L1254.78 158.59 L1255.75 158.43 L1256.73 158.2 L1257.7 157.9 L1258.69 157.65 L1259.67 158.88 L1260.66 158.58 L1261.66 158.79 L1262.66 158.19 L1263.66 158.59 L1264.66 159.11 L1265.67 158.96 L1266.68 158.7 L1267.69 158.34 L1268.71 158.52 L1269.73 159.14 L1270.75 158.48 L1271.77 158.89 L1272.79 158.78 L1273.82 159.15 L1274.84 159.02 L1275.87 158.32 L1276.9 157.91 L1277.93 158.21 L1278.97 158.36 L1280 158.51 L1280.98 158.74 L1281.99 158.74 L1283.01 157.53 L1284.05 158.44 L1285.12 158.28 L1286.19 158.21 L1287.28 157.67 L1288.38 157.12 L1289.48 157.69 L1290.59 157.46 L1291.7 157.11 L1292.82 157.22 L1293.93 156.28 L1295.05 155.75 L1296.15 156.16 L1297.25 156.27 L1298.34 155.3 L1299.42 155.82 L1300.48 155.86 L1301.52 154.76 L1302.55 155.07 L1303.56 154.98 L1304.54 154.54 L1305.5 154.04 L1306.43 153.95 L1307.33 154.46 L1308.2 154.38 L1309.04 153.84 L1309.84 153.26 L1310.6 154.11 L1311.32 154 L1312 153.25 L1313.85 153.66 L1315.25 154.18 L1316.3 154.38 L1317.1 154.21 L1317.75 154.5 L1318.34 155.02 L1318.96 154.86 L1319.71 155.19 L1320.69 155.43 L1322 156.26 L1322.78 155.86 L1323.6 156.14 L1324.48 155.92 L1325.39 156.06 L1326.34 155.55 L1327.33 155.37 L1328.34 156.55 L1329.38 155.69 L1330.43 155.28 L1331.5 155.9 L1332.58 156.04 L1333.66 155.15 L1334.75 155.67 L1335.83 155.3 L1336.91 155.49 L1337.97 154.81 L1339.01 154.82 L1340.04 156.07 L1341.03 155.93 L1342 155.48 L1343.05 155.66 L1344.08 155.37 L1345.09 156.16 L1346.1 155.84 L1347.09 156.67 L1348.07 156.61 L1349.05 156.85 L1350.03 157.22 L1351 156.49 L1351.97 156.4 L1352.95 156.81 L1353.93 156.97 L1354.91 157.03 L1355.9 157.16 L1356.91 157.98 L1357.92 158.54 L1358.95 158.13 L1360 158.88 L1360.96 158.92 L1361.94 157.91 L1362.94 158.69 L1363.95 158.51 L1364.98 158.23 L1366.01 159.39 L1367.05 158.54 L1368.1 159.01 L1369.14 159.16 L1370.19 159.62 L1371.23 159.3 L1372.26 158.98 L1373.29 159.09 L1374.3 158.74 L1375.3 159.81 L1376.29 159.86 L1377.25 158.86 L1378.19 158.62 L1379.11 158.9 L1380 159.01 L1381.17 159.68 L1382.33 159.6 L1383.48 159.41 L1384.62 158.25 L1385.74 159.06 L1386.84 158.8 L1387.91 158.56 L1388.95 158.83 L1389.96 157.46 L1390.93 157.43 L1391.85 158.09 L1392.72 158.22 L1393.54 157.79 L1394.3 157.25 L1395 157.62 L1396.4 158.05 L1397 157.69 L1397.4 158.55 L1398.2 158.95 L1400 159.01 L1400.63 159.48 L1401.26 159.06 L1401.9 159.11 L1402.56 158.94 L1403.24 159.57 L1403.95 158.63 L1404.7 159.46 L1405.48 158.69 L1406.31 158.39 L1407.19 159.44 L1408.12 158.42 L1409.12 159.24 L1410.18 159.05 L1411.32 158.97 L1412.54 157.9 L1413.84 158.2 L1415.23 157.66 L1416.72 158.67 L1418.31 158.49 L1420 158.17 L1420.72 157.92 L1421.47 157.76 L1422.25 158.38 L1423.07 157.92 L1423.91 158.11 L1424.78 157.47 L1425.68 157.57 L1426.61 157.35 L1427.56 158.2 L1428.53 158 L1429.52 157.47 L1430.53 158.41 L1431.56 157.63 L1432.61 157.82 L1433.68 157.49 L1434.76 157.65 L1435.85 158.4 L1436.95 157.75 L1438.06 157.54 L1439.18 157.96 L1440.31 157.75 L1441.45 158.51 L1442.59 157.5 L1443.73 158.63 L1444.88 157.44 L1446.02 158.53 L1447.16 158.24 L1448.31 157.66 L1449.44 158.01 L1450.58 157.76 L1451.7 157.73 L1452.82 157.66 L1453.93 157.87 L1455.03 158.69 L1456.11 158.69 L1457.19 158.6 L1458.24 157.52 L1459.28 157.76 L1460.31 158.54 L1461.31 157.44 L1462.3 158.3 L1463.26 157.72 L1464.2 158.6 L1465.11 157.33 L1466 158.34 L1466.86 157.71 L1467.69 157.42 L1468.49 157.22 L1469.26 158.27 L1470 157.83 L1471.59 157.3 L1473.1 157.51 L1474.54 158 L1475.89 156.95 L1477.18 157.25 L1478.4 156.51 L1479.55 156.38 L1480.65 156.96 L1481.69 156.68 L1482.68 155.82 L1483.62 155.47 L1484.52 155.28 L1485.38 155.77 L1486.21 155.43 L1487 154.97 L1487.77 154.72 L1488.51 155.1 L1489.23 155.09 L1489.94 155.11 L1490.63 154.72 L1491.32 154.16 L1492 153.94 L1493.66 154.79 L1494.94 154.47 L1495.94 155.08 L1496.75 154.5 L1497.47 155.81 L1498.19 155.56 L1499 156.59 L1500 156.97 L1500.94 156.79 L1501.94 156.51 L1502.99 158.04 L1504.07 157.87 L1505.15 158.78 L1506.22 158.38 L1507.26 158.66 L1508.25 159.85 L1509.17 159.56 L1510 159.56 L1511.34 160.31 L1512.37 161.02 L1513.3 160.57 L1514.31 161.4 L1515.6 161.23 L1516.45 161.14 L1517.33 160.32 L1518.24 160.7 L1519.21 160.39 L1520.23 159.98 L1521.31 158.81 L1522.46 158.89 L1523.69 158.1 L1525 158.33 L1525.41 157.33 L1525.14 158.3 L1524.37 158.35 L1523.27 157.71 L1522.01 157.71 L1520.78 157.73 L1519.75 157.74 L1519.1 157.08 L1519.01 158.32 L1519.64 157.38 L1521.19 157.35 L1523.82 157.26 L1527.72 157.47 L1533.05 158.21 L1540 157.19 L1540.54 157.27 L1541.1 158.06 L1541.66 157.4 L1542.25 157.17 L1542.84 157.93 L1543.44 157.9 L1544.06 157.83 L1544.69 158.06 L1545.33 157.28 L1545.99 158.28 L1546.66 158.08 L1547.33 157.2 L1548.02 157.3 L1548.72 157.79 L1549.44 157.8 L1550.16 157.51 L1550.9 157.3 L1551.64 157.67 L1552.4 157.32 L1553.17 157.91 L1553.95 158.26 L1554.73 157.33 L1555.53 157.89 L1556.34 158.11 L1557.16 157.35 L1557.99 158.21 L1558.83 158.36 L1559.68 157.65 L1560.54 157.69 L1561.41 158.23 L1562.29 157.82 L1563.18 157.65 L1564.08 158.36 L1564.98 158.15 L1565.9 157.58 L1566.82 157.45 L1567.76 157.57 L1568.7 157.7 L1569.65 158.41 L1570.61 158.18 L1571.57 158.32 L1572.55 158.2 L1573.53 158.24 L1574.52 157.21 L1575.52 157.81 L1576.53 158.38 L1577.54 158.35 L1578.56 157.46 L1579.59 157.69 L1580.63 157.96 L1581.67 157.61 L1582.72 157.83 L1583.78 157.23 L1584.84 157.7 L1585.91 157.79 L1586.98 157.16 L1588.07 157.32 L1589.16 158.4 L1590.25 158.15 L1591.35 158.35 L1592.46 157.96 L1593.57 158.19 L1594.69 158.29 L1595.81 158.29 L1596.94 157.18 L1598.07 157.97 L1599.21 157.48 L1600.36 158.02 L1601.51 157.49 L1602.66 157.84 L1603.82 158.34 L1604.98 157.94 L1606.15 157.46 L1607.32 157.81 L1608.5 157.7 L1609.67 158.37 L1610.86 157.51 L1612.05 157.53 L1613.24 157.98 L1614.43 157.29 L1615.63 157.91 L1616.83 158.38 L1618.03 157.8 L1619.24 157.48 L1620.45 157.74 L1621.67 157.83 L1622.88 157.33 L1624.1 157.3 L1625.32 157.31 L1626.54 157.52 L1627.77 157.66 L1629 157.51 L1630.23 157.45 L1631.46 157.25 L1632.69 157.85 L1633.92 158.23 L1635.16 157.93 L1636.4 157.88 L1637.64 157.98 L1638.88 157.4 L1640.12 158.06 L1641.36 157.74 L1642.6 157.85 L1643.84 157.93 L1645.09 157.75 L1646.33 157.54 L1647.58 157.45 L1648.82 157.43 L1650.07 157.8 L1651.31 157.64 L1652.55 157.9 L1653.8 157.15 L1655.04 157.6 L1656.28 158.26 L1657.53 157.45 L1658.77 157.86 L1660.01 157.78 L1661.25 157.51 L1662.48 158.42 L1663.72 157.52 L1664.96 158.14 L1666.19 157.35 L1667.42 157.23 L1668.65 158.27 L1669.88 157.71 L1671.11 157.22 L1672.33 157.64 L1673.55 157.71 L1674.77 158.1 L1675.99 157.28 L1677.2 157.43 L1678.41 158.39 L1679.62 158.1 L1680.83 157.34 L1682.03 157.58 L1683.23 157.6 L1684.43 158.02 L1685.62 157.94 L1686.81 158.25 L1687.99 158.21 L1689.17 157.81 L1690.35 158.1 L1691.52 158.11 L1692.69 158.13 L1693.86 157.76 L1695.02 158.16 L1696.17 158.06 L1697.33 158.33 L1698.47 157.31 L1699.61 158.28 L1700.75 157.15 L1701.88 158.14 L1703 157.91 L1704.13 157.79 L1705.24 158.4 L1706.35 157.89 L1707.45 157.69 L1708.55 158.16 L1709.64 158.28 L1710.73 157.93 L1711.8 157.64 L1712.88 157.73 L1713.94 157.74 L1715 158.09 L1716.05 157.53 L1717.1 157.65 L1718.14 157.87 L1719.17 157.65 L1720.19 157.56 L1721.21 158.17 L1722.22 158.25 L1723.22 157.8 L1724.22 157.72 L1725.2 157.39 L1726.18 157.54 L1727.15 157.34 L1728.11 157.9 L1729.07 157.9 L1730.01 157.26 L1730.95 158.34 L1731.88 157.57 L1732.8 158.24 L1733.71 158.24 L1734.61 158.39 L1735.5 157.41 L1736.38 157.7 L1737.26 158.33 L1738.12 157.16 L1738.97 157.21 L1739.82 157.88 L1740.65 157.8 L1741.48 158.35 L1742.29 158.15 L1743.09 157.85 L1743.89 158.45 L1744.67 157.82 L1745.44 157.82 L1746.2 158.04 L1746.96 157.66 L1747.69 157.61 L1748.42 157.92 L1749.14 157.61 L1749.85 158.38 L1750.54 158.03 L1751.22 157.83 L1751.9 157.28 L1752.56 157.64 L1753.2 157.67 L1753.84 157.88 L1754.46 157.9 L1755.07 158.29 L1755.67 158.4 L1756.26 157.78 L1756.83 157.72 L1757.39 157.96 L1757.94 158.44 L1758.47 157.6 L1758.99 157.84 L1759.5 158.21" stroke="#61379a" stroke-width="2.5" fill="none" stroke-linejoin="round"/>
<path d="M1034.4 60.1 L1035.13 60.46 L1036.18 61.49 L1037.39 61.69 L1038.6 61.92 L1039.54 62.06 L1040.49 63.72 L1041.49 64.33 L1042.56 65.52 L1043.7 66.99 L1044.7 68 L1045.71 68.61 L1046.78 69.59 L1047.92 71.3 L1049.15 73.46 L1050.5 75.81 L1051.4 77.15 L1052.38 79.12 L1053.42 81.84 L1054.5 84.14 L1055.6 86.26 L1056.7 89.48 L1057.78 91.47 L1058.82 93.08 L1059.8 95.71 L1060.7 98.15 L1062.01 100.49 L1063.16 103.6 L1064.21 105.22 L1065.24 107.94 L1066.31 110.95 L1067.5 113.1 L1068.48 115.17 L1069.53 116.65 L1070.6 119.1 L1071.7 121.24 L1072.8 122.9 L1073.88 125.25 L1074.92 126.83 L1075.9 128.9 L1077.11 130.05 L1078.22 131.22 L1079.29 131.99 L1080.37 132.99 L1081.49 134.57 L1082.7 134.63 L1083.66 135.22 L1084.63 135.83 L1085.62 136.71 L1086.64 137.49 L1087.7 137.61 L1088.8 138.2 L1089.97 137.64 L1091.2 137.91 L1092.16 139.05 L1093.19 138.7 L1094.27 139.33 L1095.39 139.04 L1096.53 138.95 L1097.67 139.2 L1098.81 139.14 L1099.93 140.28 L1101.01 140.08 L1102.04 140.04 L1103 140.44 L1104.21 140.83 L1105.32 140.98 L1106.35 142.59 L1107.35 142.86 L1108.33 143.97 L1109.33 144 L1110.38 144.85 L1111.5 145 L1112.42 145.2 L1113.32 146.72 L1114.22 147.07 L1115.14 146.86 L1116.08 148 L1117.06 148.32 L1118.09 148.12 L1119.2 148.88 L1120.4 149.69 L1121.7 149.49 L1122.58 150.26 L1123.51 149.62 L1124.5 150 L1125.53 150.59 L1126.6 150.19 L1127.69 150.48 L1128.81 151.35 L1129.94 151.06 L1131.07 151.6 L1132.21 151.11 L1133.34 151.2 L1134.45 151.58 L1135.54 151.54 L1136.6 152.65 L1137.62 151.99 L1138.6 152.47 L1139.77 152.14 L1140.93 152.87 L1142.07 152.92 L1143.2 153.18 L1144.3 153.01 L1145.39 153.3 L1146.45 154.36 L1147.49 153.98 L1148.5 154.02 L1149.48 154.08 L1150.42 154.29 L1151.33 154.28 L1152.2 154.04 L1153.48 154.67 L1154.61 154.03 L1155.62 153.44 L1156.56 153.67 L1157.49 152.47 L1158.46 152.22 L1159.51 152.47 L1160.7 151.25 L1161.66 151.39 L1162.7 151.61 L1163.8 151.32 L1164.93 150.28 L1166.08 150.27 L1167.24 150.48 L1168.39 149.85 L1169.5 150.36 L1170.57 149.32 L1171.58 150.1 L1172.5 149.51 L1173.78 149.18 L1174.9 149.54 L1175.91 149.34 L1176.87 150.27 L1177.84 150.03 L1178.86 151.13 L1180 151.11 L1180.97 151.15 L1182 151.36 L1183.06 152.19 L1184.14 152.14 L1185.24 153.36 L1186.33 152.9 L1187.42 153.78 L1188.48 154.2 L1189.5 154.22 L1190.49 155.19 L1191.3 155.07 L1192.02 155.73 L1192.76 155.94 L1193.62 155.92 L1194.71 156.27 L1196.14 156.12 L1198 156.41 L1198.7 157.27 L1199.43 156.67 L1200.19 157.11 L1200.99 156.48 L1201.82 157.04 L1202.68 156.82 L1203.57 157 L1204.49 156.77 L1205.43 156.49 L1206.41 156.79 L1207.4 156.69 L1208.42 156.57 L1209.47 157.27 L1210.54 156.74 L1211.62 156.88 L1212.73 157.48 L1213.85 157.32 L1215 157.44 L1216.16 157.41 L1217.33 156.53 L1218.52 156.71 L1219.72 156.41 L1220.94 157.2 L1222.16 157.18 L1223.4 156.82 L1224.27 156.91 L1225.15 157.21 L1226.05 157.27 L1226.96 156.74 L1227.88 157.47 L1228.81 156.89 L1229.76 157.24 L1230.72 156.71 L1231.68 156.65 L1232.66 157.62 L1233.65 157.42 L1234.64 157.41 L1235.65 156.62 L1236.66 156.63 L1237.68 156.79 L1238.71 156.85 L1239.75 156.99 L1240.79 157.1 L1241.83 156.71 L1242.89 157.05 L1243.94 157.46 L1245 156.92 L1246.07 157.73 L1247.13 157.42 L1248.2 157.61 L1249.27 157.07 L1250.35 157.3 L1251.42 157.62 L1252.5 157.23 L1253.57 156.83 L1254.65 157.84 L1255.72 157.78 L1256.8 157.21 L1257.87 156.93 L1258.93 157.91 L1260 157.63 L1260.83 156.97 L1261.43 157.21 L1261.8 157.06 L1261.97 157.89 L1261.97 157.2 L1261.8 158.06 L1261.5 157.87 L1261.07 157.08 L1260.54 157.82 L1259.93 157.47 L1259.25 157.91 L1258.54 158.01 L1257.79 157.37 L1257.05 157.15 L1256.32 158.18 L1255.62 157.57 L1254.98 158.18 L1254.41 157.91 L1253.93 157.97 L1253.57 158.09 L1253.34 157.86 L1253.26 157.65 L1253.35 157.18 L1253.63 157.96 L1254.13 157.65 L1254.85 157.75 L1255.82 158.26 L1257.06 157.31 L1258.59 158.07 L1260.42 157.22 L1262.59 158.01 L1265.1 158.14 L1267.97 157.49 L1271.24 157.84 L1274.9 158.35 L1278.99 157.96 L1283.53 157.85 L1288.53 157.5 L1294.01 157.27 L1300 157.63 L1300.55 157.69 L1301.1 157.44 L1301.66 157.57 L1302.23 157.36 L1302.8 158.05 L1303.37 158 L1303.96 157.49 L1304.55 157.49 L1305.14 157.82 L1305.74 157.73 L1306.35 158.32 L1306.97 157.62 L1307.58 157.56 L1308.21 158.26 L1308.84 157.37 L1309.48 157.88 L1310.12 157.6 L1310.77 158.18 L1311.42 157.86 L1312.08 158.11 L1312.74 157.4 L1313.41 158 L1314.09 157.92 L1314.77 157.75 L1315.46 158.12 L1316.15 158.2 L1316.85 157.34 L1317.55 157.55 L1318.26 157.63 L1318.97 157.45 L1319.69 157.27 L1320.42 157.54 L1321.15 157.44 L1321.88 158.04 L1322.62 157.74 L1323.37 157.34 L1324.12 157.59 L1324.88 157.76 L1325.64 157.64 L1326.4 157.4 L1327.18 157.29 L1327.95 157.21 L1328.73 158.39 L1329.52 158.1 L1330.31 157.3 L1331.11 158.06 L1331.91 158.38 L1332.72 157.88 L1333.53 157.33 L1334.34 157.79 L1335.16 157.72 L1335.99 157.43 L1336.82 157.85 L1337.65 157.21 L1338.49 158.3 L1339.34 157.97 L1340.19 157.95 L1341.04 158.32 L1341.9 157.98 L1342.76 157.5 L1343.63 157.49 L1344.5 157.36 L1345.37 157.23 L1346.25 158.13 L1347.14 158.2 L1348.03 157.55 L1348.92 157.42 L1349.82 157.96 L1350.72 158.21 L1351.63 158.31 L1352.54 157.4 L1353.46 158.14 L1354.37 158.19 L1355.3 158.08 L1356.23 157.59 L1357.16 157.41 L1358.09 158.18 L1359.03 157.58 L1359.98 157.63 L1360.93 157.85 L1361.88 157.64 L1362.83 158.19 L1363.79 157.48 L1364.76 157.24 L1365.72 157.87 L1366.7 157.94 L1367.67 158.17 L1368.65 158.04 L1369.63 158.28 L1370.62 158.32 L1371.61 157.78 L1372.6 157.79 L1373.6 157.38 L1374.6 157.55 L1375.61 157.89 L1376.61 157.28 L1377.63 158.01 L1378.64 157.38 L1379.66 157.72 L1380.68 158.35 L1381.71 157.29 L1382.74 157.23 L1383.77 157.71 L1384.81 157.41 L1385.85 158.05 L1386.89 157.19 L1387.94 158.19 L1388.98 158.21 L1390.04 158.13 L1391.09 157.69 L1392.15 157.52 L1393.21 157.98 L1394.28 157.8 L1395.35 157.69 L1396.42 157.59 L1397.49 157.71 L1398.57 157.98 L1399.65 158.17 L1400.73 158.26 L1401.82 157.38 L1402.91 157.53 L1404 157.71 L1405.09 157.85 L1406.19 157.59 L1407.29 157.41 L1408.39 157.28 L1409.5 157.56 L1410.61 157.73 L1411.72 158.34 L1412.83 158.26 L1413.95 158.21 L1415.07 158.34 L1416.19 158.33 L1417.31 157.92 L1418.44 158.15 L1419.57 157.24 L1420.7 157.98 L1421.83 157.9 L1422.97 157.53 L1424.11 157.85 L1425.25 158.31 L1426.39 157.75 L1427.54 157.94 L1428.68 157.53 L1429.83 157.58 L1430.99 158.23 L1432.14 157.2 L1433.3 157.39 L1434.46 157.98 L1435.62 157.7 L1436.78 157.27 L1437.94 157.96 L1439.11 157.61 L1440.28 157.86 L1441.45 157.66 L1442.62 157.8 L1443.8 157.84 L1444.98 157.64 L1446.15 157.3 L1447.33 157.38 L1448.52 158.23 L1449.7 157.82 L1450.89 157.29 L1452.07 158.19 L1453.26 157.46 L1454.45 157.27 L1455.64 157.79 L1456.84 157.46 L1458.03 157.74 L1459.23 157.82 L1460.43 157.43 L1461.63 157.84 L1462.83 157.29 L1464.03 157.77 L1465.24 157.86 L1466.45 157.25 L1467.65 157.64 L1468.86 157.24 L1470.07 157.68 L1471.28 158.18 L1472.49 157.81 L1473.71 158 L1474.92 158.06 L1476.14 157.28 L1477.36 158.33 L1478.57 158.01 L1479.79 157.27 L1481.01 158.14 L1482.24 157.61 L1483.46 157.35 L1484.68 158.29 L1485.91 157.82 L1487.13 158.07 L1488.36 157.3 L1489.58 158.07 L1490.81 157.21 L1492.04 157.42 L1493.27 157.58 L1494.5 157.16 L1495.73 157.85 L1496.96 157.39 L1498.2 157.5 L1499.43 157.98 L1500.66 157.65 L1501.9 158.2 L1503.13 157.88 L1504.37 158.18 L1505.6 157.81 L1506.84 158.23 L1508.08 158.18 L1509.31 157.33 L1510.55 158.02 L1511.79 157.54 L1513.03 158.04 L1514.27 157.94 L1515.51 158.12 L1516.75 157.27 L1517.99 157.57 L1519.23 158.01 L1520.47 158.26 L1521.71 157.99 L1522.95 157.18 L1524.19 157.85 L1525.43 157.24 L1526.67 157.78 L1527.91 158.08 L1529.15 157.26 L1530.39 158.23 L1531.63 157.93 L1532.87 157.42 L1534.11 157.35 L1535.35 157.65 L1536.59 158.12 L1537.83 157.81 L1539.07 157.25 L1540.31 157.14 L1541.55 157.25 L1542.79 158.07 L1544.03 157.34 L1545.26 157.78 L1546.5 157.46 L1547.74 157.94 L1548.98 157.57 L1550.21 157.28 L1551.45 158.16 L1552.68 157.75 L1553.92 157.94 L1555.15 158.08 L1556.39 158.24 L1557.62 157.12 L1558.85 157.52 L1560.08 157.29 L1561.32 157.71 L1562.55 158.15 L1563.78 158.06 L1565 157.14 L1566.23 157.32 L1567.46 158.08 L1568.69 157.92 L1569.91 157.57 L1571.14 157.67 L1572.36 157.29 L1573.58 158.11 L1574.8 157.57 L1576.02 158.14 L1577.24 157.83 L1578.46 157.19 L1579.68 157.49 L1580.89 157.35 L1582.11 158.17 L1583.32 157.8 L1584.54 157.14 L1585.75 157.29 L1586.96 157.52 L1588.16 157.65 L1589.37 157.78 L1590.58 157.55 L1591.78 157.51 L1592.99 157.09 L1594.19 157.78 L1595.39 157.49 L1596.59 157.11 L1597.78 157.64 L1598.98 158.27 L1600.17 157.14 L1601.37 157.26 L1602.56 157.89 L1603.75 157.41 L1604.93 157.41 L1606.12 157.68 L1607.3 157.39 L1608.48 157.76 L1609.66 157.71 L1610.84 158.23 L1612.02 158.27 L1613.19 157.12 L1614.37 157.75 L1615.54 158 L1616.71 158.12 L1617.87 158 L1619.04 157.83 L1620.2 157.83 L1621.36 157.51 L1622.52 157.41 L1623.68 158.03 L1624.83 158.12 L1625.99 158.2 L1627.14 157.89 L1628.28 157.43 L1629.43 157.98 L1630.57 157.95 L1631.71 157.68 L1632.85 157.83 L1633.99 157.49 L1635.12 157.73 L1636.25 157.55 L1637.38 157.14 L1638.51 157.47 L1639.63 157.45 L1640.75 158.25 L1641.87 157.64 L1642.99 157.5 L1644.1 157.35 L1645.21 157.34 L1646.32 157.48 L1647.43 157.22 L1648.53 157.07 L1649.63 158.1 L1650.73 157.6 L1651.82 157.59 L1652.92 157.74 L1654.01 157.42 L1655.09 157.26 L1656.17 157.13 L1657.25 157.41 L1658.33 157.42 L1659.41 157.92 L1660.48 157.71 L1661.55 158.18 L1662.61 157.46 L1663.67 158.15 L1664.73 157.75 L1665.79 157.14 L1666.84 157.26 L1667.89 157.74 L1668.93 158.23 L1669.98 157.47 L1671.02 157.97 L1672.05 157.56 L1673.09 158.09 L1674.11 157.13 L1675.14 157.62 L1676.16 158.12 L1677.18 157.37 L1678.2 157.35 L1679.21 157.07 L1680.22 157.24 L1681.22 157.36 L1682.22 157.88 L1683.22 157.3 L1684.22 157.52 L1685.21 157.28 L1686.19 157.76 L1687.18 158.07 L1688.16 157.81 L1689.13 157.27 L1690.1 157.92 L1691.07 158.19 L1692.03 157.76 L1692.99 157.13 L1693.95 158 L1694.9 158.08 L1695.85 157.44 L1696.79 157.2 L1697.73 157.26 L1698.67 157.68 L1699.6 158.08 L1700.53 157.8 L1701.45 158.14 L1702.37 157.28 L1703.29 157.42 L1704.2 157.93 L1705.11 157.81 L1706.01 157.51 L1706.91 157.84 L1707.8 157.43 L1708.69 157.09 L1709.57 157.52 L1710.46 157.08 L1711.33 157.78 L1712.2 157.42 L1713.07 157.62 L1713.93 157.74 L1714.79 157.33 L1715.65 157.58 L1716.49 157.04 L1717.34 158.13 L1718.18 157.7 L1719.01 158.21 L1719.84 157.09 L1720.67 157.76 L1721.49 157.89 L1722.31 157.41 L1723.12 157.13 L1723.92 157.2 L1724.72 157.19 L1725.52 157.94 L1726.31 157.12 L1727.1 157.99 L1727.88 157.52 L1728.66 157.66 L1729.43 157.72 L1730.2 157.68 L1730.96 157.8 L1731.71 157.74 L1732.46 157.41 L1733.21 157.9 L1733.95 157.32 L1734.69 157.87 L1735.42 157.93 L1736.14 157.94 L1736.86 157.38 L1737.58 157.94 L1738.28 158.18 L1738.99 157.55 L1739.69 157.34 L1740.38 157.64 L1741.07 158.14 L1741.75 157.17 L1742.42 157.02 L1743.09 157.58 L1743.76 157.79 L1744.42 157.94 L1745.07 157.44 L1745.72 158.19 L1746.36 157.28 L1747 157.91 L1747.63 157.11 L1748.25 157.04 L1748.87 157.17 L1749.49 157.08 L1750.1 157.61 L1750.7 157.67 L1751.29 157.22 L1751.88 158.13 L1752.47 157.44 L1753.04 157.18 L1753.62 157.22 L1754.18 157.89 L1754.74 158.11 L1755.29 157.2 L1755.84 157.04 L1756.38 157.94 L1756.92 157.29 L1757.45 158.18 L1757.97 157.6 L1758.49 157.76 L1759 157.41 L1759.5 157.96" stroke="#23906c" stroke-width="2.7" fill="none" stroke-linejoin="round"/>
<path d="M1034.4 61.4 L1072.5 157.5 L1759.5 157.5" stroke="#42a6d6" stroke-width="2.2" fill="none" stroke-linejoin="round"/>
<text x="1028.5" y="213.8" font-size="25.9">0</text>
<text x="1147.04" y="213.8" font-size="25.9">1</text>
<text x="1266.3" y="213.8" font-size="25.9">2</text>
<text x="1387.47" y="213.8" font-size="25.9">3</text>
<text x="1508.48" y="213.8" font-size="25.9">4</text>
<text x="1632.02" y="213.8" font-size="25.9">5</text>
<text x="1750.41" y="213.8" font-size="25.9">6</text>
<text x="1013.81" y="186.5" font-size="25.9" text-anchor="end">10</text>
<text x="1013.89" y="138" font-size="25.9" text-anchor="end">15</text>
<text x="1013.81" y="89.5" font-size="25.9" text-anchor="end">20</text>
<text x="1013.89" y="41" font-size="25.9" text-anchor="end">25</text>
<text x="1323.05" y="238.2" font-size="29.8" textLength="142.83" lengthAdjust="spacingAndGlyphs">Time [min.]</text>
<text transform="translate(939.7,187.8) rotate(-90)" x="-2.32" y="0" font-size="30" textLength="169.78" lengthAdjust="spacingAndGlyphs">Peltier device</text>
<text transform="translate(970.1,217.2) rotate(-90)" x="-0.65" y="0" font-size="30" textLength="217.41" lengthAdjust="spacingAndGlyphs">Temperature [<tspan font-size="18.9" dy="-9">o</tspan><tspan dy="9">C]</tspan></text>
<text x="1023.14" y="23.2" font-size="27" textLength="179.94" lengthAdjust="spacingAndGlyphs">Peltier device 1</text>
<path d="M1213.7 14.7H1274.4" stroke="#61379a" stroke-width="1.9"/>
<text x="1278.51" y="23.2" font-size="27" textLength="182.23" lengthAdjust="spacingAndGlyphs">Peltier device 2</text>
<path d="M1463.2 14.7H1523.7" stroke="#23906c" stroke-width="1.9"/>
<text x="1534" y="23.2" font-size="27" textLength="127.28" lengthAdjust="spacingAndGlyphs">Command</text>
<path d="M1669.2 14.7H1743" stroke="#42a6d6" stroke-width="1.9"/>
<path d="M198.62 409.1V401.3M198.62 261.6V269.4M281.34 409.1V401.3M281.34 261.6V269.4M364.06 409.1V401.3M364.06 261.6V269.4M446.78 409.1V401.3M446.78 261.6V269.4M529.5 409.1V401.3M529.5 261.6V269.4M612.22 409.1V401.3M612.22 261.6V269.4M694.94 409.1V401.3M694.94 261.6V269.4M777.66 409.1V401.3M777.66 261.6V269.4" stroke="#555" stroke-width="1" fill="none"/>
<rect x="116" y="261.6" width="737.4" height="147.5" fill="none" stroke="#222" stroke-width="1.4"/>
<path d="M116.3 291.2 L167.9 291.2 L167.9 409.1 L191.7 409.1 L191.7 291.2 L205.5 291.2 L205.5 409.1 L236.5 409.1 L236.5 291.2 L241.2 291.2 L241.2 409.1 L247.5 409.1 L247.5 291.2 L249 291.2 L249 409.1 L249.8 409.1 L249.8 291.2 L251.8 291.2 L251.8 409.1 L274.5 409.1 L274.5 291.2 L286.6 291.2 L286.6 409.1 L301.9 409.1 L301.9 291.2 L312.1 291.2 L312.1 409.1 L328.3 409.1 L328.3 291.2 L337.7 291.2 L337.7 409.1 L357.5 409.1 L357.5 291.2 L398 291.2 L398 409.1 L412.8 409.1 L412.8 291.2 L420.5 291.2 L420.5 409.1 L440 409.1 L440 291.2 L452.9 291.2 L452.9 409.1 L465.5 409.1 L465.5 291.2 L475.4 291.2 L475.4 409.1 L494.4 409.1 L494.4 291.2 L503.9 291.2 L503.9 409.1 L522.6 409.1 L522.6 291.2 L567.3 291.2 L567.3 409.1 L599.7 409.1 L599.7 291.2 L635.4 291.2 L635.4 409.1 L658.5 409.1 L658.5 291.2 L672.8 291.2 L672.8 409.1 L688.2 409.1 L688.2 291.2 L734.2 291.2 L734.2 409.1 L749.8 409.1 L749.8 291.2 L765.7 291.2 L765.7 409.1 L770.5 409.1 L770.5 291.2 L845.8 291.2 L845.8 409.1 L853 409.1" stroke="#2f3e9c" stroke-width="1.6" fill="none" stroke-linejoin="round" stroke-linejoin="miter"/>
<text x="110.3" y="445.2" font-size="25.9">0</text>
<text x="191.24" y="445.2" font-size="25.9">1</text>
<text x="274.5" y="445.2" font-size="25.9">2</text>
<text x="357.17" y="445.2" font-size="25.9">3</text>
<text x="437.38" y="445.2" font-size="25.9">4</text>
<text x="522.82" y="445.2" font-size="25.9">5</text>
<text x="604.81" y="445.2" font-size="25.9">6</text>
<text x="688.29" y="445.2" font-size="25.9">7</text>
<text x="770.7" y="445.2" font-size="25.9">8</text>
<text x="97.59" y="270.4" font-size="25.9" text-anchor="end">5</text>
<text x="97.51" y="417.7" font-size="25.9" text-anchor="end">0</text>
<text x="406.94" y="468.1" font-size="29.8" textLength="143.13" lengthAdjust="spacingAndGlyphs">Time [min.]</text>
<text transform="translate(23.7,405.3) rotate(-90)" x="-0.13" y="0" font-size="30" textLength="158.86" lengthAdjust="spacingAndGlyphs">Water pump</text>
<text transform="translate(54.9,378.6) rotate(-90)" x="-1.99" y="0" font-size="30" textLength="109.01" lengthAdjust="spacingAndGlyphs">input [V]</text>
<path d="M1152.6 394.6V386.8M1152.6 248.2V256M1274.8 394.6V386.8M1274.8 248.2V256M1397 394.6V386.8M1397 248.2V256M1519.2 394.6V386.8M1519.2 248.2V256M1641.4 394.6V386.8M1641.4 248.2V256" stroke="#555" stroke-width="1" fill="none"/>
<rect x="1030.4" y="248.2" width="733" height="146.4" fill="none" stroke="#222" stroke-width="1.4"/>
<path d="M1030.6 277.5 L1097.8 277.5 L1097.8 394.6 L1142.5 394.6 L1142.5 277.5 L1172.2 277.5 L1172.2 394.6 L1173.2 394.6 L1173.2 277.5 L1174.5 277.5 L1174.5 394.6 L1264.4 394.6 L1264.4 277.5 L1304 277.5 L1304 394.6 L1386.7 394.6 L1386.7 277.5 L1480 277.5 L1480 394.6 L1509.7 394.6 L1509.7 277.5 L1763 277.5 L1763 394.6" stroke="#2f3e9c" stroke-width="1.6" fill="none" stroke-linejoin="round" stroke-linejoin="miter"/>
<rect x="1201" y="276.7" width="16.5" height="117.9" fill="#2f3e9c"/>
<rect x="1241.5" y="276.7" width="8.5" height="117.9" fill="#2f3e9c"/>
<rect x="1304" y="276.7" width="5.8" height="117.9" fill="#2f3e9c"/>
<rect x="1321.5" y="276.7" width="19.8" height="117.9" fill="#2f3e9c"/>
<rect x="1352.1" y="276.7" width="12.6" height="117.9" fill="#2f3e9c"/>
<rect x="1378.2" y="276.7" width="8.5" height="117.9" fill="#2f3e9c"/>
<rect x="1480" y="276.7" width="29.7" height="117.9" fill="#2f3e9c"/>
<rect x="1172.2" y="276.7" width="2.3" height="117.9" fill="#2f3e9c"/>
<path d="M1342.4 277.5V394.6" stroke="#2f3e9c" stroke-width="1"/>
<path d="M1344.2 277.5V394.6" stroke="#2f3e9c" stroke-width="1"/>
<path d="M1347.6 277.5V394.6" stroke="#2f3e9c" stroke-width="1"/>
<text x="1024.7" y="430.8" font-size="25.9">0</text>
<text x="1144.94" y="430.8" font-size="25.9">1</text>
<text x="1265.5" y="430.8" font-size="25.9">2</text>
<text x="1389.97" y="430.8" font-size="25.9">3</text>
<text x="1511.88" y="430.8" font-size="25.9">4</text>
<text x="1635.82" y="430.8" font-size="25.9">5</text>
<text x="1746.21" y="430.8" font-size="25.9">6</text>
<text x="1011.59" y="256.4" font-size="25.9" text-anchor="end">5</text>
<text x="1011.51" y="403.7" font-size="25.9" text-anchor="end">0</text>
<text x="1323.05" y="462.4" font-size="29.8" textLength="142.83" lengthAdjust="spacingAndGlyphs">Time [min.]</text>
<text transform="translate(939,398.2) rotate(-90)" x="-0.13" y="0" font-size="30" textLength="159.37" lengthAdjust="spacingAndGlyphs">Water pump</text>
<text transform="translate(969.4,372.3) rotate(-90)" x="-2" y="0" font-size="30" textLength="109.63" lengthAdjust="spacingAndGlyphs">input [V]</text>
<path d="M197.3 643V635.2M197.3 499.3V507.1M279.8 643V635.2M279.8 499.3V507.1M362.3 643V635.2M362.3 499.3V507.1M444.8 643V635.2M444.8 499.3V507.1M527.3 643V635.2M527.3 499.3V507.1M609.8 643V635.2M609.8 499.3V507.1M692.3 643V635.2M692.3 499.3V507.1M774.8 643V635.2M774.8 499.3V507.1M114.8 607.08H122.6M843.6 607.08H835.8M114.8 571.15H122.6M843.6 571.15H835.8M114.8 535.23H122.6M843.6 535.23H835.8" stroke="#555" stroke-width="1" fill="none"/>
<rect x="114.8" y="499.3" width="728.8" height="143.7" fill="none" stroke="#222" stroke-width="1.4"/>
<path d="M114.8 625 L189.6 625 L189.6 614.1 L273.2 614.1 L273.2 603 L354.6 603 L354.6 592.5 L438.2 592.5 L438.2 581.7 L520.2 581.7 L520.2 570.6 L602.2 570.6 L602.2 560.1 L684.9 560.1 L684.9 549.6 L767.8 549.6 L767.8 531.3 L843 531.3" stroke="#e0262a" stroke-width="2" fill="none" stroke-linejoin="round" stroke-dasharray="5 3.2" stroke-linejoin="miter"/>
<path d="M114.7 635.35 L115.26 635.2 L115.93 635.91 L116.69 634.97 L117.53 635.75 L118.45 634.97 L119.44 635.7 L120.48 635.44 L121.58 636.03 L122.71 635.09 L123.88 635.73 L125.08 635.58 L126.29 636.22 L127.5 636.27 L128.72 635.91 L129.92 635.44 L131.1 635.49 L132.26 635.5 L133.37 635.7 L134.44 635.44 L135.46 635.38 L136.42 636.02 L137.3 635.83 L138.1 635.36 L139.59 636.04 L140.89 634.93 L142.05 635.14 L143.08 634.41 L144.03 634.99 L144.92 634.71 L145.79 633.66 L146.66 633.9 L147.56 633.61 L148.53 632.56 L149.6 632.2 L150.57 631.99 L151.57 632.03 L152.58 630.68 L153.62 630.8 L154.67 630.17 L155.72 629.45 L156.78 629.05 L157.83 628.87 L158.88 627.53 L159.92 627.82 L160.93 626.7 L161.93 626.75 L162.9 626.44 L164.02 625.16 L165.13 625.54 L166.22 625.27 L167.3 624.03 L168.36 623.32 L169.41 623.07 L170.44 623.78 L171.46 622.33 L172.46 623.16 L173.44 622.04 L174.4 622.58 L175.55 621.7 L176.68 621.76 L177.79 622.42 L178.86 621.8 L179.92 622.23 L180.95 623.08 L181.96 623 L182.94 623.34 L183.9 623.58 L185.1 622.59 L186.26 623.01 L187.38 623.88 L188.47 623.94 L189.52 623.32 L190.53 623.98 L191.5 623.68 L192.78 623.91 L193.95 623.5 L195.07 623.25 L196.18 624.03 L197.3 622.48 L198.45 621.89 L199.59 619.27 L200.72 617.81 L201.86 615.56 L203 614.41 L204.14 612.95 L205.28 612.56 L206.42 611.08 L207.56 611.11 L208.7 610.3 L209.78 609.51 L210.79 609.67 L211.84 609.86 L213.01 610.47 L214.4 609.92 L215.3 609.85 L216.27 610.86 L217.31 610.9 L218.4 610.88 L219.53 610.51 L220.66 610.59 L221.8 610.9 L222.92 610.87 L224 611.05 L225.03 611.84 L226.01 611.98 L226.96 612.44 L227.91 612.5 L228.89 612.36 L229.91 613.46 L231 613.67 L232.19 613.77 L233.5 613.96 L234.37 614.23 L235.31 614.69 L236.31 614.66 L237.36 614.58 L238.46 614.31 L239.57 614.3 L240.7 614.51 L241.83 615.24 L242.96 614.59 L244.06 614.63 L245.12 614.66 L246.14 614.32 L247.1 615.3 L247.99 614.03 L248.8 614.63 L250.27 614.56 L251.48 613.08 L252.5 612.68 L253.41 611.53 L254.31 610.54 L255.28 609.8 L256.4 609.24 L257.39 609.92 L258.44 609.77 L259.53 609.91 L260.65 608.94 L261.77 609.82 L262.87 609.51 L263.94 610.04 L264.96 610.06 L265.9 609.88 L267.18 610.85 L268.34 609.95 L269.43 611.13 L270.47 611.5 L271.52 611.23 L272.6 611.31 L273.71 611.63 L274.8 610.47 L275.89 610.59 L277 610.26 L278.13 609.25 L279.3 608.95 L280.36 607.79 L281.46 606.97 L282.59 605.98 L283.73 604.94 L284.84 603.45 L285.91 602.92 L286.9 602.15 L288.04 601.21 L288.95 601.4 L289.86 600.92 L291 601.79 L292.6 601.47 L293.39 601.89 L294.28 601.84 L295.25 602.02 L296.28 601.98 L297.37 602.19 L298.49 603.44 L299.63 603.27 L300.78 603.56 L301.91 603.84 L303.02 604.42 L304.08 603.91 L305.08 603.96 L306 604.79 L307.21 604.27 L308.3 604.25 L309.31 604.12 L310.28 603.78 L311.22 603.31 L312.19 601.89 L313.2 601.93 L314.29 602.21 L315.5 602.08 L316.4 601.28 L317.35 601.42 L318.33 601.71 L319.34 601.75 L320.37 602.31 L321.43 603.12 L322.5 603.07 L323.58 603.25 L324.66 603.06 L325.73 603.64 L326.8 604.51 L327.86 604.23 L328.9 603.94 L329.93 603.88 L330.97 604.08 L332.01 603.78 L333.06 602.75 L334.1 603.04 L335.15 602.29 L336.19 602.1 L337.22 601.39 L338.24 601.2 L339.26 600.85 L340.25 600.65 L341.24 600.02 L342.2 600.14 L343.33 600.57 L344.45 600.03 L345.57 600.33 L346.68 601.18 L347.77 600.9 L348.84 601.23 L349.88 601.42 L350.89 602.4 L351.87 601.76 L352.81 602.62 L353.7 603.03 L354.97 602.43 L356.1 602.87 L357.13 603.46 L358.11 603.35 L359.1 603.09 L360.15 602.63 L361.3 602.93 L362.26 602.59 L363.24 602.66 L364.25 601.73 L365.28 601.38 L366.34 601.17 L367.41 600.85 L368.52 599.82 L369.65 599.42 L370.8 599.29 L371.79 599.47 L372.83 598.38 L373.91 599.14 L375.02 598.67 L376.13 598.11 L377.25 598.32 L378.35 597.78 L379.42 597.32 L380.44 597.99 L381.41 597.36 L382.3 597.33 L383.52 596.94 L384.55 597.05 L385.46 596.48 L386.34 595.19 L387.25 595.43 L388.28 594.83 L389.5 594.35 L390.38 594.47 L391.3 593.57 L392.28 593.22 L393.29 593.27 L394.34 592.28 L395.41 591.91 L396.5 591.54 L397.62 591.57 L398.74 591.1 L399.87 590.99 L401 590.48 L401.97 590.08 L402.97 591 L403.98 591.09 L405.02 591.67 L406.07 592.03 L407.12 591.63 L408.18 592.14 L409.23 592.34 L410.28 593.54 L411.32 592.93 L412.33 593.07 L413.33 593.91 L414.3 593.58 L415.4 592.63 L416.45 592.83 L417.47 592.16 L418.46 591.05 L419.44 589.64 L420.42 589.47 L421.42 588.24 L422.45 587.61 L423.51 587.39 L424.62 586.62 L425.8 586.35 L426.71 585.38 L427.66 585.65 L428.63 586.01 L429.63 585.62 L430.66 587.09 L431.7 586.57 L432.75 586.92 L433.81 587.35 L434.87 587.64 L435.93 588.69 L436.98 588.6 L438.02 588.75 L439.03 588.75 L440.03 588.3 L441 588.47 L442.08 588.8 L443.14 588.19 L444.18 587.58 L445.2 586.08 L446.2 585.14 L447.2 584.04 L448.2 583.69 L449.2 582.58 L450.2 581.83 L451.22 581.08 L452.26 580.53 L453.32 579.76 L454.4 579.96 L455.37 579.12 L456.38 579.99 L457.41 579.68 L458.47 579.29 L459.54 579.89 L460.62 580.49 L461.7 580.72 L462.77 581.31 L463.84 581.42 L464.88 581.74 L465.9 582.71 L466.89 582.39 L467.84 583.11 L468.75 583.35 L469.6 583.11 L470.86 582.72 L471.93 582.82 L472.86 581.59 L473.73 581.36 L474.59 579.59 L475.5 579.31 L476.54 578.95 L477.75 577.82 L479.2 578.64 L479.99 577.72 L480.86 578.46 L481.78 578.14 L482.77 579.26 L483.79 579.1 L484.86 579.69 L485.95 579.67 L487.06 580.24 L488.19 580.62 L489.32 580.54 L490.45 580.82 L491.56 581.93 L492.65 581.44 L493.72 582.68 L494.74 582.1 L495.72 582.2 L496.65 582.37 L497.51 583.3 L498.3 583.54 L499.72 582.74 L500.87 582.61 L501.82 581.52 L502.65 581.57 L503.45 580.53 L504.28 579.14 L505.23 578.37 L506.38 578.67 L507.8 577.65 L508.59 578.6 L509.44 577.99 L510.36 578.02 L511.33 578.59 L512.34 578.45 L513.38 578.96 L514.46 578.71 L515.56 579.88 L516.67 579.44 L517.79 580.33 L518.91 579.78 L520.02 580.82 L521.11 581.28 L522.18 580.8 L523.22 580.57 L524.21 581.15 L525.17 581.58 L526.06 581.15 L526.9 581.55 L528.22 580.93 L529.41 581.18 L530.51 581.21 L531.53 580.49 L532.49 580.38 L533.42 579.26 L534.33 579.66 L535.25 578.37 L536.21 578.9 L537.22 578.61 L538.3 578.23 L539.26 577.52 L540.21 577.05 L541.18 576.96 L542.15 577.31 L543.14 576.87 L544.14 577.27 L545.15 576.14 L546.19 576.47 L547.24 576.78 L548.31 576.28 L549.41 576 L550.54 575.2 L551.7 574.97 L552.6 574.85 L553.52 575.29 L554.45 574.88 L555.39 573.75 L556.34 574.19 L557.3 572.69 L558.28 572.94 L559.27 572.94 L560.28 571.76 L561.3 572.05 L562.33 571.29 L563.37 570.17 L564.43 570.15 L565.5 569.96 L566.59 569.43 L567.69 569.78 L568.8 568.91 L569.73 569.53 L570.69 568.85 L571.69 568.51 L572.72 569.05 L573.76 568.47 L574.83 569.01 L575.91 569.31 L577 569.1 L578.09 568.98 L579.19 568.52 L580.27 569.16 L581.35 568.73 L582.41 569.47 L583.46 568.94 L584.47 569.56 L585.46 569.39 L586.42 569.5 L587.33 569.94 L588.2 569.43 L589.03 569.52 L589.8 570.53 L591.29 569.98 L592.63 570.82 L593.86 571.11 L594.96 570.92 L595.97 570.81 L596.9 571.03 L597.75 572.26 L598.54 571.61 L599.29 572.3 L600 572.54 L601.67 572.88 L602.63 573.97 L603.8 573.1 L604.79 572.19 L605.85 570.1 L606.98 567.6 L608.2 565.19 L609.5 563.78 L610.46 562.77 L611.45 562.1 L612.47 561.82 L613.54 562.26 L614.67 561.57 L615.89 561.81 L617.2 560.52 L618.08 561.48 L618.97 560.83 L619.89 561.11 L620.83 560.79 L621.8 560.89 L622.82 560.29 L623.87 560.86 L624.97 560.08 L626.12 560.12 L627.33 559.71 L628.6 559.97 L629.47 559.97 L630.4 559.52 L631.39 560.03 L632.41 558.82 L633.47 559.16 L634.55 558.48 L635.65 558.65 L636.76 558.6 L637.87 558.25 L638.98 557.21 L640.06 557.19 L641.13 557.39 L642.16 557.66 L643.15 556.37 L644.09 556.95 L644.98 556.96 L645.8 557.08 L647.19 556.6 L648.43 557.39 L649.54 557.32 L650.55 558.31 L651.5 557.7 L652.42 559.32 L653.34 559.18 L654.29 559.62 L655.3 559.61 L656.33 560.14 L657.34 561.13 L658.32 561.47 L659.31 561.24 L660.31 561.83 L661.34 561.86 L662.43 562.11 L663.57 562.18 L664.8 562.2 L665.7 562.76 L666.63 562.44 L667.59 561.75 L668.57 560.86 L669.58 560.3 L670.61 560.02 L671.66 559.55 L672.73 558.75 L673.81 558.03 L674.9 556.97 L675.99 557.03 L677.1 556.94 L678.2 556.64 L679.18 555.72 L680.19 556.47 L681.23 556.09 L682.29 556 L683.37 557.15 L684.46 557.01 L685.55 557.34 L686.63 556.86 L687.71 557.93 L688.76 558.29 L689.79 558.45 L690.78 558.41 L691.74 558.62 L692.64 558.61 L693.5 558.31 L694.74 557.88 L695.74 557.95 L696.6 557.4 L697.38 556.92 L698.18 555.59 L699.06 555.73 L700.1 554.57 L701.39 554.46 L703 552.94 L703.77 553.77 L704.61 553.35 L705.5 552.51 L706.45 553.02 L707.45 552.1 L708.49 551.86 L709.56 551.98 L710.66 551.52 L711.79 551.64 L712.94 551.95 L714.09 551.5 L715.26 551.35 L716.42 550.8 L717.58 551.1 L718.72 550.94 L719.85 550.65 L720.95 550.8 L722.02 550.52 L723.06 549.87 L724.06 549.35 L725.01 549.9 L725.9 550 L727.15 549.24 L728.36 549.39 L729.52 549.53 L730.65 549.33 L731.74 548.25 L732.8 548.71 L733.83 548.04 L734.83 548.06 L735.79 548.82 L736.73 548.28 L737.65 548.45 L738.54 548.24 L739.41 548.08 L740.27 547.93 L741.1 548.12 L742.42 548.81 L743.65 548.71 L744.79 548.55 L745.86 548.58 L746.88 549.11 L747.86 549.94 L748.81 549.95 L749.75 550.52 L750.7 550.97 L751.89 550.54 L753.02 551.7 L754.1 551.43 L755.15 552.83 L756.19 552.41 L757.23 552.69 L758.3 553.45 L759.37 552.36 L760.41 551.53 L761.45 551.49 L762.5 550.22 L763.58 549.64 L764.71 548.21 L765.9 547.7 L766.88 547.9 L767.9 547.1 L768.96 547.48 L770.03 546.36 L771.13 546.99 L772.23 546.05 L773.33 546.32 L774.43 545.48 L775.5 545.41 L776.56 545.96 L777.62 544.91 L778.67 544.81 L779.73 543.6 L780.78 543.18 L781.84 542.39 L782.89 542.52 L783.94 542.59 L785 542.02 L786.02 541.89 L787 542.78 L787.95 543.09 L788.9 543.26 L789.88 543.01 L790.9 544.09 L792 544.22 L793.19 545.04 L794.5 544.33 L795.35 544.6 L796.25 544.41 L797.19 543.9 L798.16 543.83 L799.17 543.73 L800.2 543.7 L801.26 542.87 L802.32 542.35 L803.4 542.72 L804.49 541.25 L805.57 541.81 L806.65 541.27 L807.72 540.78 L808.77 540.33 L809.8 540.4 L810.81 540.3 L811.82 539.85 L812.81 539.62 L813.8 538.52 L814.79 538.63 L815.78 538.17 L816.77 538.91 L817.76 538.6 L818.76 537.47 L819.78 537.75 L820.8 537.49 L821.85 536.6 L822.91 536.74 L823.99 536.89 L825.1 536.47 L826.07 535.78 L827.1 536.07 L828.19 535.2 L829.32 535.19 L830.48 534.72 L831.66 535.05 L832.84 534.32 L834.03 534.17 L835.21 533.67 L836.36 532.99 L837.47 533.36 L838.54 532.75 L839.56 532.44 L840.51 531.67 L841.37 531.28 L842.15 531.55 L842.83 531.65 L843.4 531.45" stroke="#e0262a" stroke-width="2.8" fill="none" stroke-linejoin="round"/>
<text x="108.4" y="678.8" font-size="25.9">0</text>
<text x="189.54" y="678.8" font-size="25.9">1</text>
<text x="272.5" y="678.8" font-size="25.9">2</text>
<text x="354.87" y="678.8" font-size="25.9">3</text>
<text x="434.88" y="678.8" font-size="25.9">4</text>
<text x="519.92" y="678.8" font-size="25.9">5</text>
<text x="602.31" y="678.8" font-size="25.9">6</text>
<text x="684.29" y="678.8" font-size="25.9">7</text>
<text x="767.5" y="678.8" font-size="25.9">8</text>
<text x="94.41" y="652" font-size="25.9" text-anchor="end">20</text>
<text x="94.41" y="616.08" font-size="25.9" text-anchor="end">30</text>
<text x="94.41" y="580.15" font-size="25.9" text-anchor="end">40</text>
<text x="94.41" y="544.23" font-size="25.9" text-anchor="end">50</text>
<text x="94.41" y="508.3" font-size="25.9" text-anchor="end">60</text>
<text x="407.04" y="704.5" font-size="29.8" textLength="143.75" lengthAdjust="spacingAndGlyphs">Time [min.]</text>
<text transform="translate(25.8,645.3) rotate(-90)" x="-2.33" y="0" font-size="30" textLength="173.7" lengthAdjust="spacingAndGlyphs">Robotic cover</text>
<text transform="translate(54.7,668.7) rotate(-90)" x="-0.65" y="0" font-size="30" textLength="216.2" lengthAdjust="spacingAndGlyphs">Temperature [<tspan font-size="18.9" dy="-9">o</tspan><tspan dy="9">C]</tspan></text>
<text x="114.75" y="492.3" font-size="27" textLength="167.5" lengthAdjust="spacingAndGlyphs">Robotic cover</text>
<path d="M290.6 483.8H347.8" stroke="#e0262a" stroke-width="1.9"/>
<text x="369.89" y="492.3" font-size="27" textLength="164.71" lengthAdjust="spacingAndGlyphs">Desired value</text>
<path d="M546.6 483.9H605" stroke="#e0262a" stroke-width="2.1" stroke-dasharray="3.8 3.3" stroke-dashoffset="1.8"/>
<path d="M1155.2 646.3V638.5M1155.2 501.1V508.9M1276.2 646.3V638.5M1276.2 501.1V508.9M1397.2 646.3V638.5M1397.2 501.1V508.9M1518.2 646.3V638.5M1518.2 501.1V508.9M1639.2 646.3V638.5M1639.2 501.1V508.9M1034.4 573.7H1042.2M1760.2 573.7H1752.4" stroke="#555" stroke-width="1" fill="none"/>
<rect x="1034.4" y="501.1" width="725.8" height="145.2" fill="none" stroke="#222" stroke-width="1.4"/>
<path d="M1034.4 558.8 L1145.2 558.8 L1145.2 573.4 L1265.8 573.4 L1265.8 587.9 L1386.7 587.9 L1386.7 602.5 L1507.9 602.5 L1507.9 617 L1759.5 617" stroke="#e0262a" stroke-width="1.8" fill="none" stroke-linejoin="round" stroke-dasharray="5 3.2" stroke-linejoin="miter"/>
<path d="M1034.4 544.42 L1034.97 544.09 L1035.66 544.44 L1036.46 544.74 L1037.35 543.73 L1038.33 544.26 L1039.37 543.41 L1040.46 543.41 L1041.6 542.92 L1042.76 543.04 L1043.94 542.98 L1045.13 543.53 L1046.3 543.4 L1047.44 542.36 L1048.55 542.43 L1049.61 543.14 L1050.6 542.24 L1051.68 542.41 L1052.75 542.59 L1053.8 542.27 L1054.85 542.54 L1055.88 542.81 L1056.9 542.94 L1057.91 543.79 L1058.92 543.13 L1059.93 543.25 L1060.94 544.32 L1061.95 544.01 L1062.96 544.73 L1063.98 544.77 L1065 545.23 L1066.02 545.01 L1067.04 545.18 L1068.05 546.3 L1069.06 546.39 L1070.07 546.95 L1071.08 547.55 L1072.09 548.13 L1073.1 548.06 L1074.12 548.66 L1075.15 549.82 L1076.2 549.85 L1077.25 550.04 L1078.32 550.91 L1079.4 550.91 L1080.36 551.9 L1081.33 551.4 L1082.3 552.72 L1083.28 552.78 L1084.27 552.9 L1085.26 553.97 L1086.27 553.53 L1087.28 553.87 L1088.29 554.03 L1089.31 554.96 L1090.34 555.57 L1091.38 555.83 L1092.43 555.86 L1093.48 556.69 L1094.53 556.19 L1095.6 556.77 L1096.56 557.48 L1097.54 558.18 L1098.54 558.09 L1099.55 558.48 L1100.57 558.9 L1101.6 558.77 L1102.64 559.74 L1103.67 559.82 L1104.71 559.65 L1105.75 560.01 L1106.78 560.79 L1107.8 560.52 L1108.81 560.59 L1109.81 561.66 L1110.79 561.48 L1111.75 561.68 L1112.69 562.04 L1113.6 562.48 L1114.73 561.73 L1115.81 562.12 L1116.86 561.89 L1117.87 562.38 L1118.86 562.54 L1119.83 562.98 L1120.8 562.77 L1121.77 562.65 L1122.74 562.43 L1123.73 562.6 L1124.74 562.21 L1125.79 562.87 L1126.87 562.77 L1128 562.81 L1128.92 561.96 L1129.89 562.56 L1130.9 562.61 L1131.93 562.26 L1132.99 562.68 L1134.07 562.62 L1135.15 562.37 L1136.25 562.4 L1137.34 562.12 L1138.42 562.33 L1139.49 561.37 L1140.53 561.99 L1141.55 561.93 L1142.54 561.77 L1143.48 561.31 L1144.38 561.03 L1145.22 561.64 L1146 561.89 L1147.4 561.2 L1148.6 561.1 L1149.67 561.08 L1150.62 560.92 L1151.49 561.64 L1152.33 562.05 L1153.17 561.96 L1154.05 561.59 L1155 562.24 L1156 561.81 L1157 563.12 L1158 562.96 L1159 563.08 L1160 564.37 L1161 564.35 L1162 565.09 L1163 565.41 L1164 566.43 L1164.98 567.14 L1165.93 568.07 L1166.86 567.8 L1167.8 569.41 L1168.75 569.2 L1169.73 569.97 L1170.75 571.05 L1171.84 571.24 L1173 571.7 L1173.89 572.29 L1174.78 572.15 L1175.66 573.1 L1176.56 572.64 L1177.49 573.61 L1178.45 573.76 L1179.46 573.61 L1180.54 573.15 L1181.69 574.18 L1182.92 573.38 L1184.26 574.04 L1185.7 574.01 L1186.51 573.6 L1187.37 574.28 L1188.26 574.39 L1189.2 574.21 L1190.17 573.96 L1191.18 574.06 L1192.21 574.1 L1193.26 573.62 L1194.33 574.33 L1195.42 574.42 L1196.52 574.13 L1197.62 574.25 L1198.73 573.43 L1199.84 574.15 L1200.94 572.99 L1202.03 573.41 L1203.11 572.94 L1204.17 573.28 L1205.22 573.51 L1206.23 573.5 L1207.22 573.17 L1208.18 573.02 L1209.1 572.83 L1210.23 573.09 L1211.33 572.97 L1212.39 572.9 L1213.43 573.6 L1214.44 573.4 L1215.43 573.37 L1216.41 573.16 L1217.37 573.84 L1218.32 573.31 L1219.27 573.47 L1220.22 573.9 L1221.17 574.14 L1222.12 574.53 L1223.08 574.31 L1224.06 574.59 L1225.05 574.59 L1226.06 574.37 L1227.1 574.36 L1228.1 573.55 L1229.1 573.69 L1230.11 573.4 L1231.12 574.35 L1232.14 574.09 L1233.16 573.89 L1234.19 573.35 L1235.22 573.35 L1236.25 573.02 L1237.3 573.47 L1238.34 573.8 L1239.4 572.88 L1240.45 572.48 L1241.51 572.56 L1242.58 572.71 L1243.65 573.31 L1244.73 573.17 L1245.81 572.73 L1246.9 572.32 L1247.91 572.36 L1248.95 572.46 L1250.03 573.27 L1251.14 572.98 L1252.27 573.69 L1253.41 573.69 L1254.57 573.66 L1255.72 573.39 L1256.88 573.93 L1258.03 573.22 L1259.17 573.33 L1260.28 574.01 L1261.37 574.07 L1262.43 573.85 L1263.46 574.03 L1264.44 573.88 L1265.37 575.07 L1266.25 574.95 L1267.07 575.34 L1267.82 575.49 L1268.5 574.92 L1270.56 575.5 L1271.65 575.16 L1272.26 575.77 L1272.85 576.11 L1273.9 575.96 L1274.75 576.46 L1275.69 577.54 L1276.7 578.96 L1277.76 579.77 L1278.83 580.41 L1279.91 582.45 L1280.96 583.37 L1281.96 583.82 L1282.9 583.95 L1284 585.51 L1285.01 585.4 L1285.97 585 L1286.92 585.37 L1287.88 585.75 L1288.9 586.12 L1290 585.78 L1290.9 586.13 L1291.82 585.79 L1292.76 586.02 L1293.72 587 L1294.71 586.57 L1295.74 586.42 L1296.81 587.18 L1297.93 586.79 L1299.1 587.04 L1299.98 587.46 L1300.82 587.74 L1301.65 587.92 L1302.48 588.12 L1303.33 587.91 L1304.23 587.57 L1305.19 588.46 L1306.23 587.75 L1307.38 588.33 L1308.64 588.31 L1310.04 588.68 L1311.6 588.76 L1312.35 588.19 L1313.15 588.68 L1313.98 588.73 L1314.85 588.45 L1315.76 588.04 L1316.69 588.94 L1317.66 588.55 L1318.65 587.88 L1319.66 588.06 L1320.69 588.93 L1321.74 587.98 L1322.8 588.14 L1323.88 588.58 L1324.96 588.59 L1326.05 588.32 L1327.14 588.41 L1328.24 587.53 L1329.33 587.56 L1330.42 588.58 L1331.5 588.34 L1332.56 587.39 L1333.62 587.37 L1334.66 587.57 L1335.68 588.37 L1336.68 587.5 L1337.65 588.02 L1338.6 588.32 L1339.69 587.95 L1340.77 588.28 L1341.83 587.49 L1342.88 587.35 L1343.93 587.19 L1344.96 588.07 L1345.99 587.29 L1347.01 588.34 L1348.02 588.03 L1349.02 587.41 L1350.03 588.16 L1351.02 587.39 L1352.02 587.82 L1353.01 587.34 L1354 588.16 L1354.99 588.29 L1355.99 588.32 L1356.98 587.23 L1357.98 588.25 L1358.97 587.89 L1359.98 588.2 L1360.99 587.81 L1362 587.94 L1363.03 587.9 L1364.09 588.12 L1365.17 587.23 L1366.27 587.17 L1367.39 587.72 L1368.51 587.38 L1369.64 587.46 L1370.78 586.95 L1371.91 587.79 L1373.04 586.88 L1374.16 587.8 L1375.26 587.74 L1376.35 587.28 L1377.42 586.84 L1378.46 587.43 L1379.47 586.87 L1380.45 587.12 L1381.39 586.71 L1382.29 587.74 L1383.15 587.22 L1383.95 586.99 L1384.7 586.69 L1385.4 587.48 L1387.26 587.72 L1388.58 587.86 L1389.52 587.15 L1390.23 587.71 L1390.88 587.94 L1391.61 588.86 L1392.6 588.58 L1393.45 589.56 L1394.22 590.54 L1394.97 590.87 L1395.73 590.59 L1396.58 591.32 L1397.54 592.01 L1398.69 593.31 L1400.06 593.75 L1401.7 594.12 L1402.43 594.21 L1403.2 594.3 L1404.01 594.69 L1404.86 594.87 L1405.75 595.32 L1406.67 595.22 L1407.62 595.41 L1408.6 595.66 L1409.61 595.68 L1410.64 595.63 L1411.69 594.91 L1412.76 595.78 L1413.85 596.08 L1414.95 595.67 L1416.05 596.29 L1417.17 595.55 L1418.29 596.55 L1419.42 596.04 L1420.54 596.45 L1421.67 596 L1422.79 596.16 L1423.9 596.31 L1425 596.39 L1425.94 596.2 L1426.89 596.71 L1427.84 597.44 L1428.81 597.14 L1429.79 597.56 L1430.77 597.44 L1431.76 597.62 L1432.75 597.89 L1433.76 597.69 L1434.76 597.2 L1435.77 597.26 L1436.79 597.54 L1437.81 597.15 L1438.83 597.49 L1439.85 598.36 L1440.88 598.49 L1441.91 597.87 L1442.93 598.48 L1443.96 598.58 L1444.99 598.81 L1446.01 598.78 L1447.03 598.56 L1448.06 598.14 L1449.07 599.1 L1450.09 598.58 L1451.1 599.05 L1452.1 598.84 L1453.11 599.15 L1454.12 599.77 L1455.14 598.91 L1456.16 599.47 L1457.19 599.73 L1458.22 599.72 L1459.26 600.32 L1460.3 599.81 L1461.33 600.54 L1462.37 600.4 L1463.41 600.86 L1464.44 599.94 L1465.47 600.21 L1466.5 600.43 L1467.52 601.29 L1468.54 600.34 L1469.55 600.76 L1470.56 601.42 L1471.55 601.86 L1472.54 601 L1473.51 601.42 L1474.48 601.81 L1475.43 601.91 L1476.37 602.07 L1477.29 602.16 L1478.2 601.63 L1479.1 601.71 L1480.29 601.51 L1481.47 602.38 L1482.63 601.86 L1483.77 601.97 L1484.91 602.86 L1486.02 602.5 L1487.12 602.47 L1488.21 602.56 L1489.28 602.51 L1490.34 602.63 L1491.38 602.17 L1492.4 601.89 L1493.41 601.9 L1494.4 601.84 L1495.37 602.26 L1496.33 602 L1497.28 601.98 L1498.2 602.45 L1499.11 603.04 L1500 602.73 L1501.24 602.26 L1502.43 602.89 L1503.58 602.21 L1504.69 602.14 L1505.77 602.41 L1506.82 602.56 L1507.83 602.92 L1508.82 602.66 L1509.79 603.04 L1510.74 602.32 L1511.67 603.38 L1512.59 602.74 L1513.5 603.41 L1514.4 602.54 L1515.56 603.65 L1516.55 603.12 L1517.43 604.09 L1518.25 604.27 L1519.08 604.35 L1519.97 604.13 L1520.96 604.06 L1522.13 604.51 L1523.52 605.59 L1525.2 604.89 L1525.95 605.56 L1526.75 605.54 L1527.58 605.69 L1528.45 605.18 L1529.35 605.19 L1530.28 605.19 L1531.24 606.31 L1532.23 605.64 L1533.24 606.01 L1534.28 605.96 L1535.34 605.6 L1536.41 605.45 L1537.5 605.44 L1538.61 606.5 L1539.73 605.68 L1540.85 606.73 L1541.99 606.06 L1543.13 606.54 L1544.28 605.89 L1545.42 606.73 L1546.57 606.14 L1547.71 606.34 L1548.85 606.59 L1549.98 606.16 L1551.1 606.4 L1552.05 607.12 L1552.97 606.57 L1553.87 606.75 L1554.75 607.27 L1555.61 606.69 L1556.46 606.72 L1557.31 606.82 L1558.14 607.08 L1558.98 607.13 L1559.82 607.53 L1560.67 607.4 L1561.52 607.95 L1562.39 607.04 L1563.28 607.85 L1564.18 608.13 L1565.11 607.48 L1566.07 607.31 L1567.05 607.88 L1568.08 607.58 L1569.14 608.07 L1570.24 608.45 L1571.39 607.79 L1572.59 607.91 L1573.84 608.43 L1575.14 608.15 L1576.51 608.3 L1577.94 608.64 L1579.43 608.35 L1581 608.38 L1581.75 608.78 L1582.51 608.95 L1583.3 609.56 L1584.1 609.14 L1584.92 608.61 L1585.75 608.84 L1586.6 609.51 L1587.47 609.34 L1588.35 609.76 L1589.25 609.92 L1590.16 609.84 L1591.08 608.99 L1592.02 610.04 L1592.97 609.59 L1593.93 609.3 L1594.9 609.27 L1595.88 610.16 L1596.87 609.43 L1597.88 609.32 L1598.89 609.59 L1599.91 610.44 L1600.94 609.94 L1601.98 610.31 L1603.02 609.58 L1604.08 610.09 L1605.13 609.98 L1606.2 609.9 L1607.27 610.5 L1608.34 610.2 L1609.42 609.96 L1610.5 611.05 L1611.59 610.51 L1612.68 610.2 L1613.77 610.05 L1614.86 610.88 L1615.95 610.76 L1617.05 610.23 L1618.14 610.82 L1619.23 611.2 L1620.33 611.01 L1621.42 610.7 L1622.51 611.07 L1623.6 611.25 L1624.68 611.36 L1625.77 610.8 L1626.85 611.65 L1627.92 611.87 L1628.99 611.67 L1630.05 611.87 L1631.11 611.33 L1632.16 612.02 L1633.21 611.21 L1634.24 611.31 L1635.27 611.8 L1636.29 612.22 L1637.31 611.28 L1638.31 611.49 L1639.3 611.32 L1640.28 611.85 L1641.26 611.54 L1642.22 611.64 L1643.16 612.36 L1644.1 612.2 L1645.18 612.68 L1646.25 612.08 L1647.31 612.46 L1648.37 611.71 L1649.42 612.88 L1650.46 612.07 L1651.49 612.41 L1652.52 612.49 L1653.54 613.06 L1654.55 612.56 L1655.56 613.2 L1656.56 612.8 L1657.56 612.36 L1658.56 613.14 L1659.54 612.42 L1660.53 613.42 L1661.51 612.81 L1662.49 612.58 L1663.46 613.5 L1664.44 612.77 L1665.4 612.91 L1666.37 612.87 L1667.34 613.3 L1668.3 612.57 L1669.26 613.03 L1670.23 612.81 L1671.19 613.65 L1672.15 612.69 L1673.11 613.46 L1674.07 613.08 L1675.03 613.35 L1676 613.52 L1676.96 613.74 L1677.93 613.09 L1678.9 613.25 L1679.87 613.14 L1680.84 614.19 L1681.82 613.25 L1682.8 613.27 L1683.78 613.77 L1684.77 613.88 L1685.76 614.29 L1686.75 613.33 L1687.75 613.58 L1688.76 613.54 L1689.77 614.08 L1690.79 613.96 L1691.81 613.95 L1692.84 614.56 L1693.88 614.33 L1694.92 614.61 L1695.97 614.77 L1697.03 613.98 L1698.1 614.83 L1699.06 614.23 L1700.04 613.84 L1701.03 614.91 L1702.05 613.98 L1703.08 613.91 L1704.13 614.28 L1705.19 614.32 L1706.27 615.17 L1707.36 615.1 L1708.47 614.6 L1709.58 614.77 L1710.71 615.2 L1711.84 615.19 L1712.99 615.05 L1714.14 614.93 L1715.3 614.49 L1716.47 614.69 L1717.64 615.23 L1718.81 615.19 L1719.99 615.49 L1721.17 615.65 L1722.35 615.77 L1723.53 614.89 L1724.71 614.8 L1725.9 615.83 L1727.07 615.48 L1728.25 615.05 L1729.42 615.71 L1730.59 615.23 L1731.75 615.25 L1732.9 615.45 L1734.05 615.68 L1735.18 615.91 L1736.31 615.22 L1737.43 616.07 L1738.54 615.97 L1739.63 615.82 L1740.71 616.1 L1741.78 616.3 L1742.83 615.39 L1743.86 615.98 L1744.88 616.26 L1745.88 616.34 L1746.86 616.3 L1747.82 615.77 L1748.77 616.74 L1749.69 616.57 L1750.58 615.94 L1751.46 616.21 L1752.31 616.87 L1753.13 616 L1753.93 616.27 L1754.7 616.97 L1755.45 616.92 L1756.16 616.14 L1756.85 616.77 L1757.5 616.35 L1758.13 616.73 L1758.72 616.88 L1759.28 616.13 L1759.8 616.27" stroke="#e0262a" stroke-width="2.8" fill="none" stroke-linejoin="round"/>
<text x="1028.5" y="682.8" font-size="25.9">0</text>
<text x="1145.34" y="682.8" font-size="25.9">1</text>
<text x="1266.3" y="682.8" font-size="25.9">2</text>
<text x="1389.97" y="682.8" font-size="25.9">3</text>
<text x="1508.48" y="682.8" font-size="25.9">4</text>
<text x="1629.52" y="682.8" font-size="25.9">5</text>
<text x="1750.41" y="682.8" font-size="25.9">6</text>
<text x="1013.69" y="655.2" font-size="25.9" text-anchor="end">15</text>
<text x="1013.61" y="582.6" font-size="25.9" text-anchor="end">20</text>
<text x="1013.69" y="510" font-size="25.9" text-anchor="end">25</text>
<text x="1323.05" y="707.3" font-size="29.8" textLength="142.83" lengthAdjust="spacingAndGlyphs">Time [min.]</text>
<text transform="translate(940.9,638.4) rotate(-90)" x="-2.33" y="0" font-size="30" textLength="173.6" lengthAdjust="spacingAndGlyphs">Robotic cover</text>
<text transform="translate(970.6,662.7) rotate(-90)" x="-0.64" y="0" font-size="30" textLength="215.79" lengthAdjust="spacingAndGlyphs">Temperature [<tspan font-size="18.9" dy="-9">o</tspan><tspan dy="9">C]</tspan></text>
<text x="1034.46" y="492.8" font-size="27" textLength="167.2" lengthAdjust="spacingAndGlyphs">Robotic cover</text>
<path d="M1209.7 484.4H1267.2" stroke="#e0262a" stroke-width="1.9"/>
<text x="1289.09" y="492.8" font-size="27" textLength="164.71" lengthAdjust="spacingAndGlyphs">Desired value</text>
<path d="M1466.3 484.5H1525" stroke="#e0262a" stroke-width="2.1" stroke-dasharray="3.8 3.3" stroke-dashoffset="1.8"/>
<rect x="62.6" y="754.4" width="23.3" height="159.8" fill="url(#cb)"/>
<g clip-path="url(#c1)"><rect x="91.3" y="754.4" width="108.5" height="161.4" fill="#7a32b0"/><rect x="91.3" y="754.4" width="108.5" height="161.4" fill="url(#c1g)"/><rect x="91.3" y="754.4" width="108.5" height="161.4" fill="url(#c1t)"/><path d="M145.2 768.82C155 770.18 174.9 780.39 174.9 804.89L174.9 870.21C174.9 894.71 155 904.92 145.2 906.28C135.4 904.92 115.5 894.71 115.5 870.21L115.5 804.89C115.5 780.39 135.4 770.18 145.2 768.82Z" fill="none" stroke="#b4309e" stroke-width="24" filter="url(#b6_0)" opacity="0.8"/><path d="M145.2 768.82C155 770.18 174.9 780.39 174.9 804.89L174.9 870.21C174.9 894.71 155 904.92 145.2 906.28C135.4 904.92 115.5 894.71 115.5 870.21L115.5 804.89C115.5 780.39 135.4 770.18 145.2 768.82Z" fill="#dc4660" filter="url(#b1_2)"/><path d="M145.2 768.82C155 770.18 174.9 780.39 174.9 804.89L174.9 870.21C174.9 894.71 155 904.92 145.2 906.28C135.4 904.92 115.5 894.71 115.5 870.21L115.5 804.89C115.5 780.39 135.4 770.18 145.2 768.82ZM119.66 788.55Q127.38 787.19 127.38 796.72L127.38 878.38Q127.38 887.91 119.66 886.55M130.35 775.62Q139.26 777.67 139.26 789.91L139.26 885.19Q139.26 897.43 130.35 899.48M170.74 788.55Q163.02 787.19 163.02 796.72L163.02 878.38Q163.02 887.91 170.74 886.55M160.05 775.62Q151.14 777.67 151.14 789.91L151.14 885.19Q151.14 897.43 160.05 899.48" fill="none" stroke="#e85a40" stroke-width="10.8" filter="url(#b2_0)" opacity="0.7"/><path d="M145.2 752.4V771.5 M145.2 903.6V917.8" stroke="#f5a234" stroke-width="4.32"/><path d="M145.2 768.82C155 770.18 174.9 780.39 174.9 804.89L174.9 870.21C174.9 894.71 155 904.92 145.2 906.28C135.4 904.92 115.5 894.71 115.5 870.21L115.5 804.89C115.5 780.39 135.4 770.18 145.2 768.82ZM119.66 788.55Q127.38 787.19 127.38 796.72L127.38 878.38Q127.38 887.91 119.66 886.55M130.35 775.62Q139.26 777.67 139.26 789.91L139.26 885.19Q139.26 897.43 130.35 899.48M170.74 788.55Q163.02 787.19 163.02 796.72L163.02 878.38Q163.02 887.91 170.74 886.55M160.05 775.62Q151.14 777.67 151.14 789.91L151.14 885.19Q151.14 897.43 160.05 899.48" fill="none" stroke="#f5a234" stroke-width="5.4" filter="url(#b0_6)" stroke-linejoin="round"/><path d="M127.38 779.71Q145.2 767.46 163.02 779.71" fill="none" stroke="#d8f0c0" stroke-width="8.64" filter="url(#b1_2)" stroke-linecap="round"/><path d="M145.2 768.82C155 770.18 174.9 780.39 174.9 804.89L174.9 870.21C174.9 894.71 155 904.92 145.2 906.28C135.4 904.92 115.5 894.71 115.5 870.21L115.5 804.89C115.5 780.39 135.4 770.18 145.2 768.82ZM119.66 788.55Q127.38 787.19 127.38 796.72L127.38 878.38Q127.38 887.91 119.66 886.55M130.35 775.62Q139.26 777.67 139.26 789.91L139.26 885.19Q139.26 897.43 130.35 899.48M170.74 788.55Q163.02 787.19 163.02 796.72L163.02 878.38Q163.02 887.91 170.74 886.55M160.05 775.62Q151.14 777.67 151.14 789.91L151.14 885.19Q151.14 897.43 160.05 899.48" fill="none" stroke="#f8c24a" stroke-width="2.43" filter="url(#b0_6)" stroke-linejoin="round" opacity="0.8"/><path d="M150 756L178 770" stroke="#f0c848" stroke-width="2.2" filter="url(#b0_6)" stroke-linecap="round"/><path d="M187 770L199 778" stroke="#f0b040" stroke-width="2" filter="url(#b0_6)" stroke-linecap="round"/></g>
<text x="62.18" y="746.8" font-size="29.3" textLength="82.06" lengthAdjust="spacingAndGlyphs">45.6<tspan font-size="18.46" dy="-8.79">o</tspan><tspan dy="8.79">C</tspan></text>
<text x="60.64" y="938.9" font-size="29.3" textLength="81.9" lengthAdjust="spacingAndGlyphs">22.2<tspan font-size="18.46" dy="-8.79">o</tspan><tspan dy="8.79">C</tspan></text>
<rect x="226.6" y="754" width="23.5" height="160.2" fill="url(#cb)"/>
<g clip-path="url(#c2)"><rect x="256.3" y="754" width="106.6" height="158.8" fill="#7a32b0"/><rect x="256.3" y="754" width="106.6" height="158.8" fill="url(#c2g)"/><rect x="256.3" y="754" width="106.6" height="158.8" fill="url(#c2t)"/><path d="M310.2 767.64C320 768.96 339.9 778.9 339.9 802.75L339.9 866.35C339.9 890.2 320 900.14 310.2 901.46C300.4 900.14 280.5 890.2 280.5 866.35L280.5 802.75C280.5 778.9 300.4 768.96 310.2 767.64Z" fill="none" stroke="#b4309e" stroke-width="24" filter="url(#b6_0)" opacity="0.8"/><path d="M310.2 767.64C320 768.96 339.9 778.9 339.9 802.75L339.9 866.35C339.9 890.2 320 900.14 310.2 901.46C300.4 900.14 280.5 890.2 280.5 866.35L280.5 802.75C280.5 778.9 300.4 768.96 310.2 767.64Z" fill="#e04c54" filter="url(#b1_2)"/><path d="M310.2 767.64C320 768.96 339.9 778.9 339.9 802.75L339.9 866.35C339.9 890.2 320 900.14 310.2 901.46C300.4 900.14 280.5 890.2 280.5 866.35L280.5 802.75C280.5 778.9 300.4 768.96 310.2 767.64ZM284.66 786.85Q292.38 785.52 292.38 794.8L292.38 874.3Q292.38 883.57 284.66 882.25M295.35 774.26Q304.26 776.25 304.26 788.17L304.26 880.92Q304.26 892.85 295.35 894.84M335.74 786.85Q328.02 785.52 328.02 794.8L328.02 874.3Q328.02 883.57 335.74 882.25M325.05 774.26Q316.14 776.25 316.14 788.17L316.14 880.92Q316.14 892.85 325.05 894.84" fill="none" stroke="#e85a40" stroke-width="11.2" filter="url(#b2_0)" opacity="0.7"/><path d="M310.2 752V770.3 M310.2 898.8V914.8" stroke="#f6ae38" stroke-width="4.48"/><path d="M310.2 767.64C320 768.96 339.9 778.9 339.9 802.75L339.9 866.35C339.9 890.2 320 900.14 310.2 901.46C300.4 900.14 280.5 890.2 280.5 866.35L280.5 802.75C280.5 778.9 300.4 768.96 310.2 767.64ZM284.66 786.85Q292.38 785.52 292.38 794.8L292.38 874.3Q292.38 883.57 284.66 882.25M295.35 774.26Q304.26 776.25 304.26 788.17L304.26 880.92Q304.26 892.85 295.35 894.84M335.74 786.85Q328.02 785.52 328.02 794.8L328.02 874.3Q328.02 883.57 335.74 882.25M325.05 774.26Q316.14 776.25 316.14 788.17L316.14 880.92Q316.14 892.85 325.05 894.84" fill="none" stroke="#f6ae38" stroke-width="5.6" filter="url(#b0_6)" stroke-linejoin="round"/><path d="M292.38 778.24Q310.2 766.31 328.02 778.24" fill="none" stroke="#e0f0c8" stroke-width="8.96" filter="url(#b1_2)" stroke-linecap="round"/><path d="M310.2 767.64C320 768.96 339.9 778.9 339.9 802.75L339.9 866.35C339.9 890.2 320 900.14 310.2 901.46C300.4 900.14 280.5 890.2 280.5 866.35L280.5 802.75C280.5 778.9 300.4 768.96 310.2 767.64ZM284.66 786.85Q292.38 785.52 292.38 794.8L292.38 874.3Q292.38 883.57 284.66 882.25M295.35 774.26Q304.26 776.25 304.26 788.17L304.26 880.92Q304.26 892.85 295.35 894.84M335.74 786.85Q328.02 785.52 328.02 794.8L328.02 874.3Q328.02 883.57 335.74 882.25M325.05 774.26Q316.14 776.25 316.14 788.17L316.14 880.92Q316.14 892.85 325.05 894.84" fill="none" stroke="#f8cc50" stroke-width="2.52" filter="url(#b0_6)" stroke-linejoin="round" opacity="0.8"/><path d="M318 755L338 762" stroke="#f0c040" stroke-width="2.2" filter="url(#b0_6)" stroke-linecap="round"/><path d="M355 772L363 780" stroke="#f0b040" stroke-width="2" filter="url(#b0_6)" stroke-linecap="round"/></g>
<text x="227.22" y="746.8" font-size="29.3" textLength="81.61" lengthAdjust="spacingAndGlyphs">53.6<tspan font-size="18.46" dy="-8.79">o</tspan><tspan dy="8.79">C</tspan></text>
<text x="224.53" y="938.7" font-size="29.3" textLength="82" lengthAdjust="spacingAndGlyphs">23.1<tspan font-size="18.46" dy="-8.79">o</tspan><tspan dy="8.79">C</tspan></text>
<rect x="393.4" y="754.3" width="23.3" height="159.1" fill="url(#cb)"/>
<g clip-path="url(#c3)"><rect x="422" y="754.3" width="108" height="160.1" fill="#7a32b0"/><rect x="422" y="754.3" width="108" height="160.1" fill="url(#c3g)"/><rect x="422" y="754.3" width="108" height="160.1" fill="url(#c3t)"/><path d="M480.5 759.25C491.49 760.75 513.8 771.96 513.8 798.87L513.8 870.63C513.8 897.54 491.49 908.75 480.5 910.25C469.51 908.75 447.2 897.54 447.2 870.63L447.2 798.87C447.2 771.96 469.51 760.75 480.5 759.25Z" fill="none" stroke="#b4309e" stroke-width="24" filter="url(#b6_0)" opacity="0.8"/><path d="M480.5 759.25C491.49 760.75 513.8 771.96 513.8 798.87L513.8 870.63C513.8 897.54 491.49 908.75 480.5 910.25C469.51 908.75 447.2 897.54 447.2 870.63L447.2 798.87C447.2 771.96 469.51 760.75 480.5 759.25Z" fill="#ee5a30" filter="url(#b1_2)"/><ellipse cx="480.5" cy="890.07" rx="23.98" ry="12.71" fill="#f0f0a0" filter="url(#b3_0)" opacity="0.9"/><path d="M480.5 759.25C491.49 760.75 513.8 771.96 513.8 798.87L513.8 870.63C513.8 897.54 491.49 908.75 480.5 910.25C469.51 908.75 447.2 897.54 447.2 870.63L447.2 798.87C447.2 771.96 469.51 760.75 480.5 759.25ZM451.86 780.93Q460.52 779.43 460.52 789.9L460.52 879.6Q460.52 890.07 451.86 888.57M463.85 766.73Q473.84 768.97 473.84 782.42L473.84 887.08Q473.84 900.53 463.85 902.77M509.14 780.93Q500.48 779.43 500.48 789.9L500.48 879.6Q500.48 890.07 509.14 888.57M497.15 766.73Q487.16 768.97 487.16 782.42L487.16 887.08Q487.16 900.53 497.15 902.77" fill="none" stroke="#f08040" stroke-width="14.4" filter="url(#b2_0)" opacity="0.7"/><path d="M480.5 752.3V762 M480.5 907.5V916.4" stroke="#f8d050" stroke-width="5.76"/><path d="M480.5 759.25C491.49 760.75 513.8 771.96 513.8 798.87L513.8 870.63C513.8 897.54 491.49 908.75 480.5 910.25C469.51 908.75 447.2 897.54 447.2 870.63L447.2 798.87C447.2 771.96 469.51 760.75 480.5 759.25ZM451.86 780.93Q460.52 779.43 460.52 789.9L460.52 879.6Q460.52 890.07 451.86 888.57M463.85 766.73Q473.84 768.97 473.84 782.42L473.84 887.08Q473.84 900.53 463.85 902.77M509.14 780.93Q500.48 779.43 500.48 789.9L500.48 879.6Q500.48 890.07 509.14 888.57M497.15 766.73Q487.16 768.97 487.16 782.42L487.16 887.08Q487.16 900.53 497.15 902.77" fill="none" stroke="#f8d050" stroke-width="7.2" filter="url(#b0_6)" stroke-linejoin="round"/><path d="M460.52 771.21Q480.5 757.76 500.48 771.21" fill="none" stroke="#e4f4d0" stroke-width="12.96" filter="url(#b1_2)" stroke-linecap="round"/><path d="M480.5 759.25C491.49 760.75 513.8 771.96 513.8 798.87L513.8 870.63C513.8 897.54 491.49 908.75 480.5 910.25C469.51 908.75 447.2 897.54 447.2 870.63L447.2 798.87C447.2 771.96 469.51 760.75 480.5 759.25ZM451.86 780.93Q460.52 779.43 460.52 789.9L460.52 879.6Q460.52 890.07 451.86 888.57M463.85 766.73Q473.84 768.97 473.84 782.42L473.84 887.08Q473.84 900.53 463.85 902.77M509.14 780.93Q500.48 779.43 500.48 789.9L500.48 879.6Q500.48 890.07 509.14 888.57M497.15 766.73Q487.16 768.97 487.16 782.42L487.16 887.08Q487.16 900.53 497.15 902.77" fill="none" stroke="#f8e890" stroke-width="3.24" filter="url(#b0_6)" stroke-linejoin="round" opacity="0.8"/><path d="M522 775L530 782" stroke="#f0b040" stroke-width="2" filter="url(#b0_6)" stroke-linecap="round"/></g>
<text x="391.99" y="746.8" font-size="29.3" textLength="83.66" lengthAdjust="spacingAndGlyphs">63.9<tspan font-size="18.46" dy="-8.79">o</tspan><tspan dy="8.79">C</tspan></text>
<text x="392.05" y="938.7" font-size="29.3" textLength="81.07" lengthAdjust="spacingAndGlyphs">24.2<tspan font-size="18.46" dy="-8.79">o</tspan><tspan dy="8.79">C</tspan></text>
<rect x="557.8" y="754.4" width="23.1" height="159.8" fill="url(#cb)"/>
<g clip-path="url(#c4)"><rect x="587.3" y="754.4" width="108" height="160.7" fill="#7a32b0"/><rect x="587.3" y="754.4" width="108" height="160.7" fill="url(#c4g)"/><rect x="587.3" y="754.4" width="108" height="160.7" fill="url(#c4t)"/><path d="M641.2 765.21C651.1 766.59 671.2 776.88 671.2 801.6L671.2 867.5C671.2 892.22 651.1 902.51 641.2 903.89C631.3 902.51 611.2 892.22 611.2 867.5L611.2 801.6C611.2 776.88 631.3 766.59 641.2 765.21Z" fill="none" stroke="#b4309e" stroke-width="24" filter="url(#b6_0)" opacity="0.8"/><path d="M641.2 765.21C651.1 766.59 671.2 776.88 671.2 801.6L671.2 867.5C671.2 892.22 651.1 902.51 641.2 903.89C631.3 902.51 611.2 892.22 611.2 867.5L611.2 801.6C611.2 776.88 631.3 766.59 641.2 765.21Z" fill="#f05a2c" filter="url(#b1_2)"/><ellipse cx="641.2" cy="885.35" rx="21.6" ry="11.67" fill="#e8f0a0" filter="url(#b3_0)" opacity="0.9"/><path d="M641.2 765.21C651.1 766.59 671.2 776.88 671.2 801.6L671.2 867.5C671.2 892.22 651.1 902.51 641.2 903.89C631.3 902.51 611.2 892.22 611.2 867.5L611.2 801.6C611.2 776.88 631.3 766.59 641.2 765.21ZM615.4 785.12Q623.2 783.75 623.2 793.36L623.2 875.74Q623.2 885.35 615.4 883.98M626.2 772.08Q635.2 774.14 635.2 786.5L635.2 882.61Q635.2 894.96 626.2 897.02M667 785.12Q659.2 783.75 659.2 793.36L659.2 875.74Q659.2 885.35 667 883.98M656.2 772.08Q647.2 774.14 647.2 786.5L647.2 882.61Q647.2 894.96 656.2 897.02" fill="none" stroke="#f08a40" stroke-width="14.8" filter="url(#b2_0)" opacity="0.7"/><path d="M641.2 752.4V767.9 M641.2 901.2V917.1" stroke="#f6dc6c" stroke-width="5.92"/><path d="M641.2 765.21C651.1 766.59 671.2 776.88 671.2 801.6L671.2 867.5C671.2 892.22 651.1 902.51 641.2 903.89C631.3 902.51 611.2 892.22 611.2 867.5L611.2 801.6C611.2 776.88 631.3 766.59 641.2 765.21ZM615.4 785.12Q623.2 783.75 623.2 793.36L623.2 875.74Q623.2 885.35 615.4 883.98M626.2 772.08Q635.2 774.14 635.2 786.5L635.2 882.61Q635.2 894.96 626.2 897.02M667 785.12Q659.2 783.75 659.2 793.36L659.2 875.74Q659.2 885.35 667 883.98M656.2 772.08Q647.2 774.14 647.2 786.5L647.2 882.61Q647.2 894.96 656.2 897.02" fill="none" stroke="#f6dc6c" stroke-width="7.4" filter="url(#b0_6)" stroke-linejoin="round"/><path d="M623.2 776.2Q641.2 763.84 659.2 776.2" fill="none" stroke="#eef4d4" stroke-width="13.32" filter="url(#b1_2)" stroke-linecap="round"/><path d="M641.2 765.21C651.1 766.59 671.2 776.88 671.2 801.6L671.2 867.5C671.2 892.22 651.1 902.51 641.2 903.89C631.3 902.51 611.2 892.22 611.2 867.5L611.2 801.6C611.2 776.88 631.3 766.59 641.2 765.21ZM615.4 785.12Q623.2 783.75 623.2 793.36L623.2 875.74Q623.2 885.35 615.4 883.98M626.2 772.08Q635.2 774.14 635.2 786.5L635.2 882.61Q635.2 894.96 626.2 897.02M667 785.12Q659.2 783.75 659.2 793.36L659.2 875.74Q659.2 885.35 667 883.98M656.2 772.08Q647.2 774.14 647.2 786.5L647.2 882.61Q647.2 894.96 656.2 897.02" fill="none" stroke="#f0f0a0" stroke-width="3.33" filter="url(#b0_6)" stroke-linejoin="round" opacity="0.8"/><path d="M646 757L660 764" stroke="#f0a848" stroke-width="2" filter="url(#b0_6)" stroke-linecap="round"/><path d="M688 778L695 786" stroke="#f0b040" stroke-width="2" filter="url(#b0_6)" stroke-linecap="round"/></g>
<text x="557.61" y="746.8" font-size="29.3" textLength="81.72" lengthAdjust="spacingAndGlyphs">70.4<tspan font-size="18.46" dy="-8.79">o</tspan><tspan dy="8.79">C</tspan></text>
<text x="556.96" y="938.7" font-size="29.3" textLength="80.66" lengthAdjust="spacingAndGlyphs">24.0<tspan font-size="18.46" dy="-8.79">o</tspan><tspan dy="8.79">C</tspan></text>
<rect x="717.8" y="754.4" width="23.1" height="159.8" fill="url(#cb)"/>
<g clip-path="url(#c5)"><rect x="746.3" y="754.4" width="108" height="161.4" fill="#7a32b0"/><rect x="746.3" y="754.4" width="108" height="161.4" fill="url(#c5g)"/><rect x="746.3" y="754.4" width="108" height="161.4" fill="url(#c5t)"/><path d="M803.4 765.18C813.7 766.62 834.6 777.45 834.6 803.44L834.6 872.76C834.6 898.75 813.7 909.58 803.4 911.02C793.1 909.58 772.2 898.75 772.2 872.76L772.2 803.44C772.2 777.45 793.1 766.62 803.4 765.18Z" fill="none" stroke="#b4309e" stroke-width="24" filter="url(#b6_0)" opacity="0.8"/><path d="M803.4 765.18C813.7 766.62 834.6 777.45 834.6 803.44L834.6 872.76C834.6 898.75 813.7 909.58 803.4 911.02C793.1 909.58 772.2 898.75 772.2 872.76L772.2 803.44C772.2 777.45 793.1 766.62 803.4 765.18Z" fill="#f05c2a" filter="url(#b1_2)"/><ellipse cx="803.4" cy="891.53" rx="22.46" ry="12.27" fill="#e8f0a0" filter="url(#b3_0)" opacity="0.9"/><path d="M803.4 765.18C813.7 766.62 834.6 777.45 834.6 803.44L834.6 872.76C834.6 898.75 813.7 909.58 803.4 911.02C793.1 909.58 772.2 898.75 772.2 872.76L772.2 803.44C772.2 777.45 793.1 766.62 803.4 765.18ZM776.57 786.12Q784.68 784.67 784.68 794.78L784.68 881.42Q784.68 891.53 776.57 890.08M787.8 772.4Q797.16 774.56 797.16 787.56L797.16 888.64Q797.16 901.64 787.8 903.8M830.23 786.12Q822.12 784.67 822.12 794.78L822.12 881.42Q822.12 891.53 830.23 890.08M819 772.4Q809.64 774.56 809.64 787.56L809.64 888.64Q809.64 901.64 819 903.8" fill="none" stroke="#f09040" stroke-width="16" filter="url(#b2_0)" opacity="0.7"/><path d="M803.4 752.4V767.9 M803.4 908.3V917.8" stroke="#f6d864" stroke-width="6.4"/><path d="M803.4 765.18C813.7 766.62 834.6 777.45 834.6 803.44L834.6 872.76C834.6 898.75 813.7 909.58 803.4 911.02C793.1 909.58 772.2 898.75 772.2 872.76L772.2 803.44C772.2 777.45 793.1 766.62 803.4 765.18ZM776.57 786.12Q784.68 784.67 784.68 794.78L784.68 881.42Q784.68 891.53 776.57 890.08M787.8 772.4Q797.16 774.56 797.16 787.56L797.16 888.64Q797.16 901.64 787.8 903.8M830.23 786.12Q822.12 784.67 822.12 794.78L822.12 881.42Q822.12 891.53 830.23 890.08M819 772.4Q809.64 774.56 809.64 787.56L809.64 888.64Q809.64 901.64 819 903.8" fill="none" stroke="#f6d864" stroke-width="8" filter="url(#b0_6)" stroke-linejoin="round"/><path d="M784.68 776.73Q803.4 763.73 822.12 776.73" fill="none" stroke="#f0f4d8" stroke-width="14.4" filter="url(#b1_2)" stroke-linecap="round"/><path d="M803.4 765.18C813.7 766.62 834.6 777.45 834.6 803.44L834.6 872.76C834.6 898.75 813.7 909.58 803.4 911.02C793.1 909.58 772.2 898.75 772.2 872.76L772.2 803.44C772.2 777.45 793.1 766.62 803.4 765.18ZM776.57 786.12Q784.68 784.67 784.68 794.78L784.68 881.42Q784.68 891.53 776.57 890.08M787.8 772.4Q797.16 774.56 797.16 787.56L797.16 888.64Q797.16 901.64 787.8 903.8M830.23 786.12Q822.12 784.67 822.12 794.78L822.12 881.42Q822.12 891.53 830.23 890.08M819 772.4Q809.64 774.56 809.64 787.56L809.64 888.64Q809.64 901.64 819 903.8" fill="none" stroke="#f0eca0" stroke-width="3.6" filter="url(#b0_6)" stroke-linejoin="round" opacity="0.8"/><path d="M808 757L824 765" stroke="#f0b048" stroke-width="2" filter="url(#b0_6)" stroke-linecap="round"/><path d="M848 778L854 786" stroke="#f0b040" stroke-width="2" filter="url(#b0_6)" stroke-linecap="round"/></g>
<text x="717.61" y="746.8" font-size="29.3" textLength="81.72" lengthAdjust="spacingAndGlyphs">76.7<tspan font-size="18.46" dy="-8.79">o</tspan><tspan dy="8.79">C</tspan></text>
<text x="716.96" y="938.7" font-size="29.3" textLength="80.66" lengthAdjust="spacingAndGlyphs">24.5<tspan font-size="18.46" dy="-8.79">o</tspan><tspan dy="8.79">C</tspan></text>
<rect x="981.4" y="754.4" width="22.3" height="159.1" fill="url(#cb)"/>
<g clip-path="url(#c6)"><rect x="1010.8" y="754" width="108" height="161.1" fill="#ec8046"/><path d="M1064.7 760.5C1075.76 761.9 1098.2 772.37 1098.2 797.5L1098.2 864.5C1098.2 889.63 1075.76 900.1 1064.7 901.5C1053.64 900.1 1031.2 889.63 1031.2 864.5L1031.2 797.5C1031.2 772.37 1053.64 761.9 1064.7 760.5Z" fill="#e8644a" filter="url(#b1_2)"/><path d="M1064.7 752V763.2 M1064.7 898.8V917.1" stroke="#a040c4" stroke-width="3.2"/><path d="M1064.7 760.5C1075.76 761.9 1098.2 772.37 1098.2 797.5L1098.2 864.5C1098.2 889.63 1075.76 900.1 1064.7 901.5C1053.64 900.1 1031.2 889.63 1031.2 864.5L1031.2 797.5C1031.2 772.37 1053.64 761.9 1064.7 760.5ZM1035.89 780.74Q1044.6 779.35 1044.6 789.12L1044.6 872.88Q1044.6 882.65 1035.89 881.26M1047.95 767.48Q1058 769.58 1058 782.14L1058 879.86Q1058 892.42 1047.95 894.52M1093.51 780.74Q1084.8 779.35 1084.8 789.12L1084.8 872.88Q1084.8 882.65 1093.51 881.26M1081.45 767.48Q1071.4 769.58 1071.4 782.14L1071.4 879.86Q1071.4 892.42 1081.45 894.52" fill="none" stroke="#a040c4" stroke-width="3.4" filter="url(#b0_8)" stroke-linejoin="round"/><path d="M1044.6 771.67Q1064.7 759.11 1084.8 771.67" fill="none" stroke="#a040c4" stroke-width="3.4" filter="url(#b1_4)" stroke-linecap="round"/><path d="M1044.6 890.33Q1064.7 902.89 1084.8 890.33" fill="none" stroke="#a040c4" stroke-width="2.72" filter="url(#b1_4)" stroke-linecap="round"/></g>
<text x="980.93" y="746.8" font-size="29.3" textLength="82.21" lengthAdjust="spacingAndGlyphs">28.0<tspan font-size="18.46" dy="-8.79">o</tspan><tspan dy="8.79">C</tspan></text>
<text x="979.34" y="938.7" font-size="29.3" textLength="81.9" lengthAdjust="spacingAndGlyphs">24.5<tspan font-size="18.46" dy="-8.79">o</tspan><tspan dy="8.79">C</tspan></text>
<rect x="1141.9" y="755.1" width="22" height="159.6" fill="url(#cb)"/>
<g clip-path="url(#c7)"><rect x="1171.5" y="754.4" width="108.5" height="161.4" fill="#f0a642"/><path d="M1226.2 762.78C1237.16 764.22 1259.4 775.06 1259.4 801.07L1259.4 870.43C1259.4 896.44 1237.16 907.28 1226.2 908.72C1215.24 907.28 1193 896.44 1193 870.43L1193 801.07C1193 775.06 1215.24 764.22 1226.2 762.78Z" fill="#f28e3e" filter="url(#b1_2)"/><path d="M1226.2 752.4V765.5 M1226.2 906V917.8" stroke="#7434c6" stroke-width="3.36"/><path d="M1226.2 762.78C1237.16 764.22 1259.4 775.06 1259.4 801.07L1259.4 870.43C1259.4 896.44 1237.16 907.28 1226.2 908.72C1215.24 907.28 1193 896.44 1193 870.43L1193 801.07C1193 775.06 1215.24 764.22 1226.2 762.78ZM1197.65 783.73Q1206.28 782.28 1206.28 792.4L1206.28 879.1Q1206.28 889.22 1197.65 887.77M1209.6 770Q1219.56 772.17 1219.56 785.17L1219.56 886.33Q1219.56 899.33 1209.6 901.5M1254.75 783.73Q1246.12 782.28 1246.12 792.4L1246.12 879.1Q1246.12 889.22 1254.75 887.77M1242.8 770Q1232.84 772.17 1232.84 785.17L1232.84 886.33Q1232.84 899.33 1242.8 901.5" fill="none" stroke="#7434c6" stroke-width="4.2" filter="url(#b0_9)" stroke-linejoin="round"/><path d="M1206.28 774.34Q1226.2 761.33 1246.12 774.34" fill="none" stroke="#7434c6" stroke-width="4.2" filter="url(#b1_5)" stroke-linecap="round"/><path d="M1206.28 897.16Q1226.2 910.17 1246.12 897.16" fill="none" stroke="#7434c6" stroke-width="3.36" filter="url(#b1_5)" stroke-linecap="round"/></g>
<text x="1141.65" y="747.5" font-size="29.3" textLength="80.76" lengthAdjust="spacingAndGlyphs">26.5<tspan font-size="18.46" dy="-8.79">o</tspan><tspan dy="8.79">C</tspan></text>
<text x="1139.34" y="938.7" font-size="29.3" textLength="81.9" lengthAdjust="spacingAndGlyphs">21.6<tspan font-size="18.46" dy="-8.79">o</tspan><tspan dy="8.79">C</tspan></text>
<rect x="1309" y="754" width="23.5" height="160" fill="url(#cb)"/>
<g clip-path="url(#c8)"><rect x="1337.5" y="754" width="107.8" height="157.8" fill="#e8bc4c"/><path d="M1392 763.29C1403.98 764.71 1428.3 775.28 1428.3 800.66L1428.3 868.34C1428.3 893.72 1403.98 904.29 1392 905.7C1380.02 904.29 1355.7 893.72 1355.7 868.34L1355.7 800.66C1355.7 775.28 1380.02 764.71 1392 763.29Z" fill="#f0983c" filter="url(#b1_2)"/><path d="M1392 752V766 M1392 903V913.8" stroke="#5a2ca2" stroke-width="4"/><path d="M1392 763.29C1403.98 764.71 1428.3 775.28 1428.3 800.66L1428.3 868.34C1428.3 893.72 1403.98 904.29 1392 905.7C1380.02 904.29 1355.7 893.72 1355.7 868.34L1355.7 800.66C1355.7 775.28 1380.02 764.71 1392 763.29ZM1360.78 783.74Q1370.22 782.33 1370.22 792.2L1370.22 876.8Q1370.22 886.67 1360.78 885.26M1373.85 770.35Q1384.74 772.46 1384.74 785.15L1384.74 883.85Q1384.74 896.54 1373.85 898.65M1423.22 783.74Q1413.78 782.33 1413.78 792.2L1413.78 876.8Q1413.78 886.67 1423.22 885.26M1410.15 770.35Q1399.26 772.46 1399.26 785.15L1399.26 883.85Q1399.26 896.54 1410.15 898.65" fill="none" stroke="#5a2ca2" stroke-width="5" filter="url(#b1_2)" stroke-linejoin="round"/><path d="M1370.22 774.58Q1392 761.88 1413.78 774.58" fill="none" stroke="#5a2ca2" stroke-width="5" filter="url(#b1_7999999999999998)" stroke-linecap="round"/><path d="M1370.22 894.42Q1392 907.12 1413.78 894.42" fill="none" stroke="#5a2ca2" stroke-width="4" filter="url(#b1_7999999999999998)" stroke-linecap="round"/></g>
<text x="1308.74" y="746.6" font-size="29.3" textLength="81.79" lengthAdjust="spacingAndGlyphs">26.1<tspan font-size="18.46" dy="-8.79">o</tspan><tspan dy="8.79">C</tspan></text>
<text x="1308.15" y="938.7" font-size="29.3" textLength="81.18" lengthAdjust="spacingAndGlyphs">20.2<tspan font-size="18.46" dy="-8.79">o</tspan><tspan dy="8.79">C</tspan></text>
<rect x="1476.4" y="752.5" width="23.5" height="159.8" fill="url(#cb)"/>
<g clip-path="url(#c9)"><rect x="1506.1" y="752.5" width="108" height="160.3" fill="#e8c05a"/><path d="M1561.2 759.3C1571.76 760.7 1593.2 771.17 1593.2 796.3L1593.2 863.3C1593.2 888.43 1571.76 898.9 1561.2 900.3C1550.64 898.9 1529.2 888.43 1529.2 863.3L1529.2 796.3C1529.2 771.17 1550.64 760.7 1561.2 759.3Z" fill="none" stroke="#f09c40" stroke-width="10" filter="url(#b4_5)" opacity="0.9"/><path d="M1561.2 759.3C1571.76 760.7 1593.2 771.17 1593.2 796.3L1593.2 863.3C1593.2 888.43 1571.76 898.9 1561.2 900.3C1550.64 898.9 1529.2 888.43 1529.2 863.3L1529.2 796.3C1529.2 771.17 1550.64 760.7 1561.2 759.3Z" fill="#e05a58" filter="url(#b1_2)"/><path d="M1561.2 750.5V762 M1561.2 897.6V914.8" stroke="#42288e" stroke-width="3.68"/><path d="M1561.2 759.3C1571.76 760.7 1593.2 771.17 1593.2 796.3L1593.2 863.3C1593.2 888.43 1571.76 898.9 1561.2 900.3C1550.64 898.9 1529.2 888.43 1529.2 863.3L1529.2 796.3C1529.2 771.17 1550.64 760.7 1561.2 759.3ZM1533.68 779.54Q1542 778.15 1542 787.92L1542 871.68Q1542 881.45 1533.68 880.06M1545.2 766.28Q1554.8 768.38 1554.8 780.94L1554.8 878.66Q1554.8 891.22 1545.2 893.32M1588.72 779.54Q1580.4 778.15 1580.4 787.92L1580.4 871.68Q1580.4 881.45 1588.72 880.06M1577.2 766.28Q1567.6 768.38 1567.6 780.94L1567.6 878.66Q1567.6 891.22 1577.2 893.32" fill="none" stroke="#42288e" stroke-width="4.6" filter="url(#b1_2)" stroke-linejoin="round"/><path d="M1542 770.47Q1561.2 757.91 1580.4 770.47" fill="none" stroke="#42288e" stroke-width="4.6" filter="url(#b1_7999999999999998)" stroke-linecap="round"/><path d="M1542 889.13Q1561.2 901.69 1580.4 889.13" fill="none" stroke="#46288e" stroke-width="3.68" filter="url(#b1_7999999999999998)" stroke-linecap="round"/></g>
<text x="1475.94" y="745.4" font-size="29.3" textLength="81.49" lengthAdjust="spacingAndGlyphs">27.6<tspan font-size="18.46" dy="-8.79">o</tspan><tspan dy="8.79">C</tspan></text>
<text x="1474.83" y="937.7" font-size="29.3" textLength="81.9" lengthAdjust="spacingAndGlyphs">19.7<tspan font-size="18.46" dy="-8.79">o</tspan><tspan dy="8.79">C</tspan></text>
<rect x="1634.8" y="753.7" width="22.8" height="159.1" fill="url(#cb)"/>
<g clip-path="url(#c10)"><rect x="1663.3" y="753.7" width="106.9" height="160.5" fill="#e4c462"/><path d="M1718 756.85C1729.15 758.35 1751.8 769.63 1751.8 796.7L1751.8 868.9C1751.8 895.97 1729.15 907.25 1718 908.75C1706.85 907.25 1684.2 895.97 1684.2 868.9L1684.2 796.7C1684.2 769.63 1706.85 758.35 1718 756.85Z" fill="none" stroke="#f08a3c" stroke-width="14" filter="url(#b4_5)" opacity="1"/><path d="M1718 756.85C1729.15 758.35 1751.8 769.63 1751.8 796.7L1751.8 868.9C1751.8 895.97 1729.15 907.25 1718 908.75C1706.85 907.25 1684.2 895.97 1684.2 868.9L1684.2 796.7C1684.2 769.63 1706.85 758.35 1718 756.85Z" fill="#d04888" filter="url(#b1_2)"/><path d="M1718 751.7V759.6 M1718 906V916.2" stroke="#2a2868" stroke-width="4.32"/><path d="M1718 756.85C1729.15 758.35 1751.8 769.63 1751.8 796.7L1751.8 868.9C1751.8 895.97 1729.15 907.25 1718 908.75C1706.85 907.25 1684.2 895.97 1684.2 868.9L1684.2 796.7C1684.2 769.63 1706.85 758.35 1718 756.85ZM1688.93 778.66Q1697.72 777.15 1697.72 787.68L1697.72 877.92Q1697.72 888.45 1688.93 886.94M1701.1 764.37Q1711.24 766.62 1711.24 780.16L1711.24 885.44Q1711.24 898.98 1701.1 901.23M1747.07 778.66Q1738.28 777.15 1738.28 787.68L1738.28 877.92Q1738.28 888.45 1747.07 886.94M1734.9 764.37Q1724.76 766.62 1724.76 780.16L1724.76 885.44Q1724.76 898.98 1734.9 901.23" fill="none" stroke="#2a2868" stroke-width="5.4" filter="url(#b1_2)" stroke-linejoin="round"/><path d="M1697.72 768.88Q1718 755.34 1738.28 768.88" fill="none" stroke="#2a2868" stroke-width="5.4" filter="url(#b1_7999999999999998)" stroke-linecap="round"/><path d="M1697.72 896.72Q1718 910.26 1738.28 896.72" fill="none" stroke="#2c2868" stroke-width="4.32" filter="url(#b1_7999999999999998)" stroke-linecap="round"/></g>
<text x="1634.24" y="746.8" font-size="29.3" textLength="81.9" lengthAdjust="spacingAndGlyphs">27.6<tspan font-size="18.46" dy="-8.79">o</tspan><tspan dy="8.79">C</tspan></text>
<text x="1633.75" y="938.4" font-size="29.3" textLength="81.07" lengthAdjust="spacingAndGlyphs">18.6<tspan font-size="18.46" dy="-8.79">o</tspan><tspan dy="8.79">C</tspan></text>
<path d="M341 601 L144.4 753.5" stroke="#111" stroke-width="1.5" fill="none" stroke-linejoin="round" stroke-dasharray="4.3 3" stroke-linejoin="miter"/>
<path d="M549 576.3 L311 754" stroke="#111" stroke-width="1.5" fill="none" stroke-linejoin="round" stroke-dasharray="4.3 3" stroke-linejoin="miter"/>
<path d="M655 560 L477.2 755.7" stroke="#111" stroke-width="1.5" fill="none" stroke-linejoin="round" stroke-dasharray="4.3 3" stroke-linejoin="miter"/>
<path d="M728 549.6 L642 754.2" stroke="#111" stroke-width="1.5" fill="none" stroke-linejoin="round" stroke-dasharray="4.3 3" stroke-linejoin="miter"/>
<path d="M835 531 L803.6 754.2" stroke="#111" stroke-width="1.5" fill="none" stroke-linejoin="round" stroke-dasharray="4.3 3" stroke-linejoin="miter"/>
<path d="M1114.5 563 L1064.5 751" stroke="#111" stroke-width="1.5" fill="none" stroke-linejoin="round" stroke-dasharray="4.3 3" stroke-linejoin="miter"/>
<path d="M1244 575 L1226 752.6" stroke="#111" stroke-width="1.5" fill="none" stroke-linejoin="round" stroke-dasharray="4.3 3" stroke-linejoin="miter"/>
<path d="M1338.6 587.8 L1501.4 692.9 L1394.6 754.8" stroke="#111" stroke-width="1.5" fill="none" stroke-linejoin="round" stroke-dasharray="4.3 3" stroke-linejoin="miter"/>
<path d="M1486 604 L1581.2 750.4" stroke="#111" stroke-width="1.5" fill="none" stroke-linejoin="round" stroke-dasharray="4.3 3" stroke-linejoin="miter"/>
<path d="M1753 618 L1715 750.4" stroke="#111" stroke-width="1.5" fill="none" stroke-linejoin="round" stroke-dasharray="4.3 3" stroke-linejoin="miter"/></svg></body></html>
